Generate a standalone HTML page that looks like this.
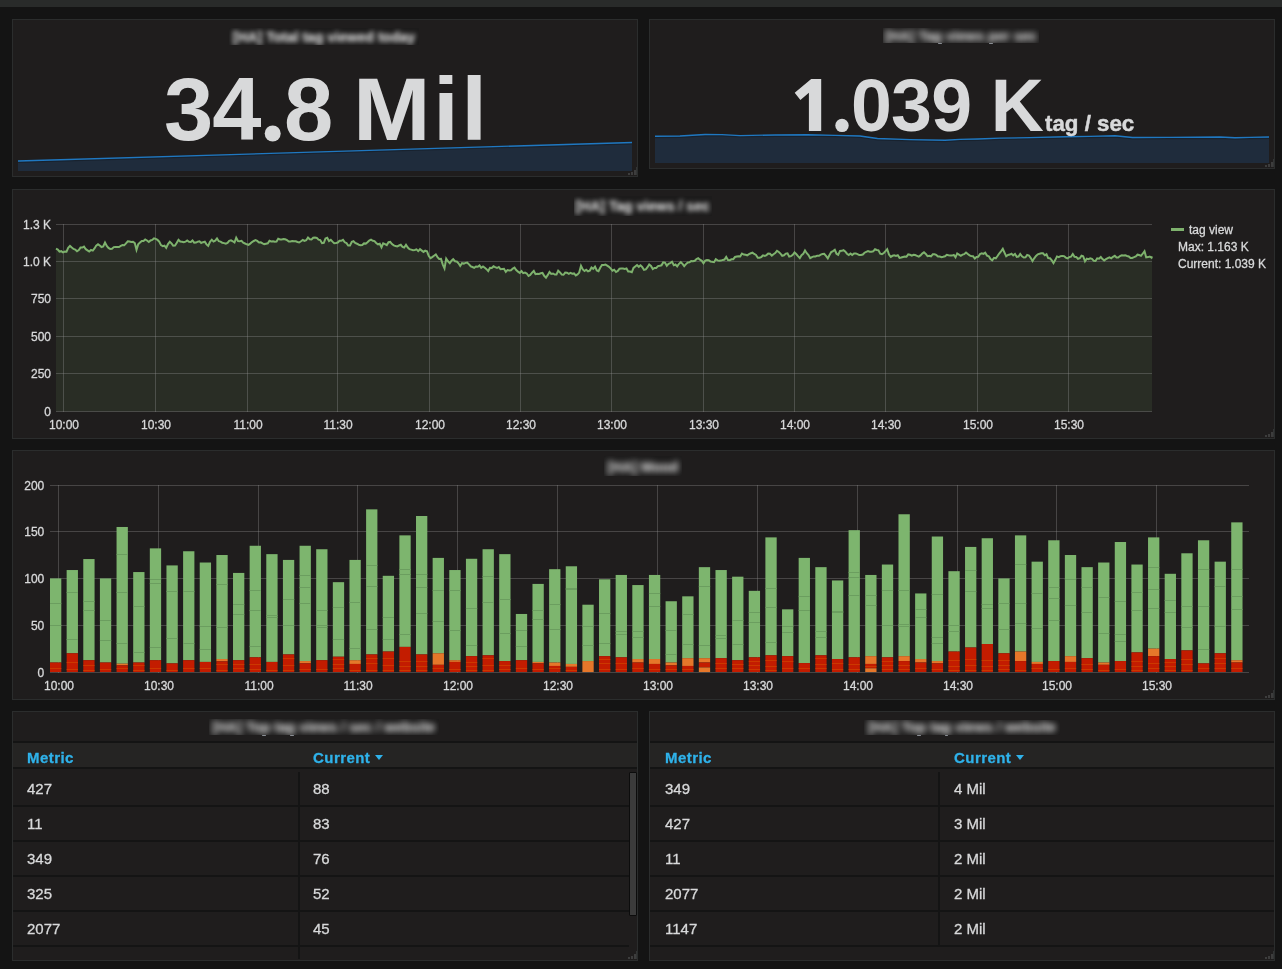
<!DOCTYPE html>
<html><head><meta charset="utf-8"><title>Grafana dashboard</title>
<style>
html,body{margin:0;padding:0;}
body{width:1282px;height:969px;overflow:hidden;background:#141414;position:relative;
 font-family:"Liberation Sans",sans-serif;color:#d8d9da;}
#top{position:absolute;left:0;top:0;width:1282px;height:7px;background:#292b2a}
.panel{position:absolute;background:#1f1d1d;border:1px solid #2b2d2d;}
svg#cv{position:absolute;left:0;top:0;}
.g{fill:rgba(146,146,146,0.35);shape-rendering:crispEdges}
.ttl{position:absolute;line-height:20px;display:flex;align-items:flex-start;justify-content:center;font-weight:bold;font-size:14px;
 color:#f2f2f2;white-space:nowrap;overflow:hidden;background:#1c1b1b}
.ttl span{display:block;flex:none;height:20px}
.big{position:absolute;text-align:center;font-weight:bold;color:#d8d9da;white-space:nowrap}
.yl,.xl,.lg,.td{-webkit-text-stroke:0.3px #d8d9da}
.yl,.xl,.lg,.td,.th,.big{will-change:transform}
.yl{position:absolute;text-align:right;font-size:12px;line-height:16px;height:16px;color:#d8d9da;white-space:nowrap}
.xl{position:absolute;width:60px;text-align:center;font-size:12px;line-height:16px;height:16px;color:#d8d9da}
.lg{position:absolute;font-size:12px;line-height:16px;color:#d8d9da;white-space:nowrap}
.th{position:absolute;font-size:15px;line-height:18px;font-weight:bold;color:#2fb2ea;white-space:nowrap;letter-spacing:0.45px;-webkit-text-stroke:0.3px #2fb2ea}
.td{position:absolute;font-size:15px;line-height:18px;color:#d8d9da;white-space:nowrap}
.caret{display:inline-block;width:0;height:0;border-left:4px solid transparent;border-right:4px solid transparent;
 border-top:5px solid #2fb2ea;margin-left:5px;vertical-align:3px}
</style></head>
<body>
<div id="top"></div>
<div class="panel" style="left:12px;top:19px;width:624px;height:156px"></div>
<div class="panel" style="left:649px;top:19px;width:624px;height:148px"></div>
<div class="panel" style="left:12px;top:189px;width:1261px;height:248px"></div>
<div class="panel" style="left:12px;top:450px;width:1261px;height:248px"></div>
<div class="panel" style="left:12px;top:711px;width:624px;height:248px"></div>
<div class="panel" style="left:649px;top:711px;width:624px;height:248px"></div>
<svg id="cv" width="1282" height="969" viewBox="0 0 1282 969">
<rect x="628" y="173" width="2" height="2" fill="#3d3d3d"/><rect x="631" y="172" width="2" height="3" fill="#3d3d3d"/><rect x="634" y="170" width="2" height="5" fill="#3d3d3d"/><rect x="636" y="167" width="1" height="8" fill="#333535"/>
<rect x="1265" y="165" width="2" height="2" fill="#3d3d3d"/><rect x="1268" y="164" width="2" height="3" fill="#3d3d3d"/><rect x="1271" y="162" width="2" height="5" fill="#3d3d3d"/><rect x="1273" y="159" width="1" height="8" fill="#333535"/>
<rect x="1265" y="435" width="2" height="2" fill="#3d3d3d"/><rect x="1268" y="434" width="2" height="3" fill="#3d3d3d"/><rect x="1271" y="432" width="2" height="5" fill="#3d3d3d"/><rect x="1273" y="429" width="1" height="8" fill="#333535"/>
<rect x="1265" y="696" width="2" height="2" fill="#3d3d3d"/><rect x="1268" y="695" width="2" height="3" fill="#3d3d3d"/><rect x="1271" y="693" width="2" height="5" fill="#3d3d3d"/><rect x="1273" y="690" width="1" height="8" fill="#333535"/>
<rect x="628" y="957" width="2" height="2" fill="#3d3d3d"/><rect x="631" y="956" width="2" height="3" fill="#3d3d3d"/><rect x="634" y="954" width="2" height="5" fill="#3d3d3d"/><rect x="636" y="951" width="1" height="8" fill="#333535"/>
<rect x="1265" y="957" width="2" height="2" fill="#3d3d3d"/><rect x="1268" y="956" width="2" height="3" fill="#3d3d3d"/><rect x="1271" y="954" width="2" height="5" fill="#3d3d3d"/><rect x="1273" y="951" width="1" height="8" fill="#333535"/>
<path d="M18,161 L632,142.5 L632,171 L18,171 Z" fill="#1f2c3c"/>
<path d="M18,162.3 L632,143.8" fill="none" stroke="rgba(0,0,0,0.22)" stroke-width="1.2"/>
<path d="M18,161 L632,142.5" fill="none" stroke="#1f78c1" stroke-width="1.3"/>
<path d="M655,136.25 L680,136.0 L705,134.5 L722,134.6 L740,135.7 L775,135.0 L807.5,134.75 L835,135.3 L860,136.0 L877.5,138.5 L910,139.6 L945,140.25 L960,139.3 L977.5,139.0 L1000,138.2 L1030,137.6 L1065,136.75 L1090,136.4 L1115,135.75 L1132.5,137.5 L1170,137.3 L1220,137.0 L1235,137.75 L1250,137.4 L1269,137.0 L1269,163 L655,163 Z" fill="#1f2c3c"/>
<path d="M655,136.25 L680,136.0 L705,134.5 L722,134.6 L740,135.7 L775,135.0 L807.5,134.75 L835,135.3 L860,136.0 L877.5,138.5 L910,139.6 L945,140.25 L960,139.3 L977.5,139.0 L1000,138.2 L1030,137.6 L1065,136.75 L1090,136.4 L1115,135.75 L1132.5,137.5 L1170,137.3 L1220,137.0 L1235,137.75 L1250,137.4 L1269,137.0" fill="none" stroke="rgba(0,0,0,0.22)" stroke-width="1.2" transform="translate(0,1.3)"/>
<path d="M655,136.25 L680,136.0 L705,134.5 L722,134.6 L740,135.7 L775,135.0 L807.5,134.75 L835,135.3 L860,136.0 L877.5,138.5 L910,139.6 L945,140.25 L960,139.3 L977.5,139.0 L1000,138.2 L1030,137.6 L1065,136.75 L1090,136.4 L1115,135.75 L1132.5,137.5 L1170,137.3 L1220,137.0 L1235,137.75 L1250,137.4 L1269,137.0" fill="none" stroke="#1f78c1" stroke-width="1.3"/>
<circle cx="272.7" cy="133.5" r="8" fill="#d8d9da"/>
<path d="M821.2,79 L821.2,131.1 L808.9,131.1 L808.9,92.8 L800.4,100.1 L794.7,92.7 L811.2,79 Z" fill="#d8d9da"/>
<circle cx="842" cy="125.4" r="6.7" fill="#d8d9da"/>
<path d="M56.0,248.7 L57.8,249.6 L59.5,251.7 L61.2,251.2 L63.0,252.4 L64.8,251.6 L66.5,251.7 L68.2,247.9 L70.0,245.9 L71.8,247.5 L73.5,248.9 L75.2,249.5 L77.0,251.3 L78.8,250.0 L80.5,247.6 L82.2,247.6 L84.0,246.6 L85.8,249.2 L87.5,250.3 L89.2,251.4 L91.0,249.9 L92.8,250.6 L94.5,248.4 L96.2,245.6 L98.0,244.3 L99.8,245.5 L101.5,247.0 L103.2,246.4 L105.0,242.6 L106.8,246.0 L108.5,247.9 L110.2,248.9 L112.0,248.8 L113.8,247.1 L115.5,246.9 L117.2,246.9 L119.0,247.0 L120.8,245.8 L122.5,245.1 L124.2,245.3 L126.0,243.3 L127.8,241.3 L129.5,241.5 L131.2,242.0 L133.0,241.8 L134.8,243.1 L136.5,249.8 L138.2,244.4 L140.0,242.6 L141.8,241.0 L143.5,241.0 L145.2,239.4 L147.0,240.5 L148.8,242.0 L150.5,240.5 L152.2,239.9 L154.0,238.4 L155.8,238.9 L157.5,239.9 L159.2,241.5 L161.0,245.1 L162.8,246.2 L164.5,245.6 L166.2,247.8 L168.0,244.1 L169.8,241.7 L171.5,243.4 L173.2,245.7 L175.0,245.5 L176.8,242.8 L178.5,239.8 L180.2,241.5 L182.0,241.7 L183.8,242.2 L185.5,241.7 L187.2,240.4 L189.0,241.7 L190.8,242.0 L192.5,240.4 L194.2,242.7 L196.0,242.6 L197.8,241.6 L199.5,241.3 L201.2,243.0 L203.0,242.2 L204.8,241.7 L206.5,244.4 L208.2,245.9 L210.0,241.8 L211.8,239.7 L213.5,241.6 L215.2,240.7 L217.0,238.5 L218.8,241.2 L220.5,241.6 L222.2,242.7 L224.0,243.1 L225.8,243.7 L227.5,242.9 L229.2,240.8 L231.0,240.3 L232.8,241.3 L234.5,242.5 L236.2,237.8 L238.0,241.1 L239.8,241.2 L241.5,240.8 L243.2,242.7 L245.0,243.5 L246.8,244.3 L248.5,244.8 L250.2,243.6 L252.0,242.1 L253.8,241.0 L255.5,240.2 L257.2,240.9 L259.0,242.5 L260.8,242.3 L262.5,243.4 L264.2,244.1 L266.0,243.7 L267.8,243.3 L269.5,240.8 L271.2,241.4 L273.0,241.2 L274.8,241.8 L276.5,241.6 L278.2,238.7 L280.0,239.5 L281.8,239.5 L283.5,239.1 L285.2,239.3 L287.0,240.2 L288.8,241.5 L290.5,241.4 L292.2,241.1 L294.0,241.2 L295.8,241.3 L297.5,242.0 L299.2,242.5 L301.0,241.3 L302.8,240.0 L304.5,240.9 L306.2,240.2 L308.0,237.5 L309.8,239.3 L311.5,239.5 L313.2,237.8 L315.0,237.5 L316.8,237.9 L318.5,239.6 L320.2,240.1 L322.0,243.1 L323.8,242.8 L325.5,238.4 L327.2,237.7 L329.0,241.0 L330.8,239.8 L332.5,241.6 L334.2,243.3 L336.0,243.0 L337.8,242.5 L339.5,240.7 L341.2,240.8 L343.0,239.8 L344.8,242.3 L346.5,243.1 L348.2,245.5 L350.0,245.5 L351.8,241.9 L353.5,241.2 L355.2,243.0 L357.0,243.7 L358.8,244.7 L360.5,245.2 L362.2,245.1 L364.0,243.4 L365.8,243.6 L367.5,242.3 L369.2,240.5 L371.0,239.7 L372.8,240.8 L374.5,241.1 L376.2,243.0 L378.0,244.3 L379.8,243.7 L381.5,247.3 L383.2,243.4 L385.0,244.1 L386.8,245.1 L388.5,242.2 L390.2,241.9 L392.0,244.1 L393.8,245.4 L395.5,246.1 L397.2,246.4 L399.0,245.5 L400.8,244.8 L402.5,246.8 L404.2,247.5 L406.0,244.8 L407.8,247.5 L409.5,249.2 L411.2,249.6 L413.0,250.2 L414.8,250.0 L416.5,249.4 L418.2,251.1 L420.0,249.2 L421.8,250.6 L423.5,251.9 L425.2,250.6 L427.0,251.3 L428.8,256.1 L430.5,258.2 L432.2,257.1 L434.0,255.7 L435.8,254.5 L437.5,257.1 L439.2,259.0 L441.0,258.9 L442.8,264.6 L444.5,268.4 L446.2,258.6 L448.0,261.3 L449.8,263.2 L451.5,260.7 L453.2,259.1 L455.0,261.2 L456.8,261.5 L458.5,263.3 L460.2,266.0 L462.0,263.2 L463.8,263.6 L465.5,262.9 L467.2,262.5 L469.0,264.4 L470.8,266.3 L472.5,267.0 L474.2,267.9 L476.0,266.5 L477.8,266.7 L479.5,265.4 L481.2,267.8 L483.0,266.5 L484.8,267.8 L486.5,269.2 L488.2,271.1 L490.0,267.9 L491.8,268.0 L493.5,266.3 L495.2,267.2 L497.0,268.0 L498.8,267.0 L500.5,269.2 L502.2,268.9 L504.0,268.7 L505.8,271.9 L507.5,270.1 L509.2,270.4 L511.0,270.2 L512.8,268.5 L514.5,267.6 L516.2,270.0 L518.0,271.6 L519.8,272.9 L521.5,271.1 L523.2,273.1 L525.0,272.6 L526.8,273.5 L528.5,276.0 L530.2,274.9 L532.0,272.7 L533.8,271.0 L535.5,274.2 L537.2,273.8 L539.0,274.0 L540.8,273.3 L542.5,272.9 L544.2,275.8 L546.0,277.7 L547.8,274.9 L549.5,271.9 L551.2,273.9 L553.0,273.5 L554.8,274.5 L556.5,274.5 L558.2,270.7 L560.0,272.4 L561.8,274.6 L563.5,274.8 L565.2,272.6 L567.0,272.7 L568.8,273.9 L570.5,272.9 L572.2,273.7 L574.0,273.4 L575.8,275.4 L577.5,274.4 L579.2,272.6 L581.0,265.8 L582.8,269.5 L584.5,271.0 L586.2,269.7 L588.0,271.3 L589.8,270.6 L591.5,267.5 L593.2,268.8 L595.0,266.6 L596.8,270.5 L598.5,271.2 L600.2,267.7 L602.0,265.0 L603.8,264.9 L605.5,264.6 L607.2,265.6 L609.0,266.8 L610.8,268.6 L612.5,270.7 L614.2,269.7 L616.0,272.0 L617.8,270.9 L619.5,268.7 L621.2,268.5 L623.0,268.5 L624.8,268.9 L626.5,268.4 L628.2,271.5 L630.0,271.6 L631.8,272.3 L633.5,267.9 L635.2,266.4 L637.0,265.0 L638.8,266.8 L640.5,265.3 L642.2,266.9 L644.0,269.9 L645.8,269.4 L647.5,267.2 L649.2,264.4 L651.0,265.9 L652.8,269.1 L654.5,267.9 L656.2,268.0 L658.0,266.1 L659.8,265.8 L661.5,265.3 L663.2,262.4 L665.0,262.6 L666.8,265.8 L668.5,263.8 L670.2,263.1 L672.0,261.8 L673.8,265.3 L675.5,264.5 L677.2,266.4 L679.0,263.8 L680.8,262.2 L682.5,263.9 L684.2,266.1 L686.0,264.1 L687.8,262.4 L689.5,262.3 L691.2,261.0 L693.0,261.3 L694.8,260.8 L696.5,259.0 L698.2,258.2 L700.0,259.7 L701.8,260.8 L703.5,263.2 L705.2,260.7 L707.0,260.1 L708.8,260.2 L710.5,261.6 L712.2,261.7 L714.0,262.2 L715.8,259.2 L717.5,260.4 L719.2,260.7 L721.0,260.6 L722.8,259.9 L724.5,259.6 L726.2,257.0 L728.0,260.1 L729.8,260.2 L731.5,259.3 L733.2,259.2 L735.0,257.0 L736.8,256.5 L738.5,256.3 L740.2,256.4 L742.0,253.5 L743.8,254.5 L745.5,254.8 L747.2,255.3 L749.0,254.1 L750.8,253.3 L752.5,252.7 L754.2,254.0 L756.0,254.9 L757.8,257.8 L759.5,257.7 L761.2,257.1 L763.0,255.4 L764.8,255.9 L766.5,255.1 L768.2,253.6 L770.0,253.8 L771.8,255.6 L773.5,254.2 L775.2,253.1 L777.0,250.8 L778.8,252.0 L780.5,253.6 L782.2,255.8 L784.0,255.3 L785.8,253.6 L787.5,253.3 L789.2,256.6 L791.0,256.1 L792.8,254.8 L794.5,252.5 L796.2,254.0 L798.0,256.2 L799.8,258.1 L801.5,255.2 L803.2,253.9 L805.0,250.5 L806.8,253.2 L808.5,255.0 L810.2,258.2 L812.0,257.1 L813.8,256.4 L815.5,256.5 L817.2,255.7 L819.0,255.8 L820.8,254.6 L822.5,254.1 L824.2,253.8 L826.0,255.9 L827.8,258.3 L829.5,255.0 L831.2,252.1 L833.0,251.1 L834.8,249.8 L836.5,253.7 L838.2,254.8 L840.0,250.9 L841.8,250.8 L843.5,250.1 L845.2,251.4 L847.0,253.7 L848.8,255.0 L850.5,253.6 L852.2,254.9 L854.0,253.4 L855.8,253.4 L857.5,254.2 L859.2,255.1 L861.0,255.0 L862.8,254.5 L864.5,252.7 L866.2,251.9 L868.0,251.1 L869.8,251.8 L871.5,251.8 L873.2,251.3 L875.0,249.3 L876.8,250.0 L878.5,250.4 L880.2,253.6 L882.0,254.2 L883.8,253.0 L885.5,251.1 L887.2,249.2 L889.0,254.5 L890.8,256.9 L892.5,255.8 L894.2,255.4 L896.0,256.0 L897.8,255.2 L899.5,257.9 L901.2,257.5 L903.0,257.0 L904.8,256.5 L906.5,256.7 L908.2,254.3 L910.0,254.8 L911.8,255.6 L913.5,254.8 L915.2,255.0 L917.0,255.8 L918.8,256.6 L920.5,255.4 L922.2,253.6 L924.0,252.3 L925.8,253.9 L927.5,256.1 L929.2,255.7 L931.0,256.3 L932.8,254.3 L934.5,254.3 L936.2,254.9 L938.0,256.5 L939.8,256.6 L941.5,257.2 L943.2,256.8 L945.0,256.3 L946.8,254.8 L948.5,255.3 L950.2,255.4 L952.0,255.6 L953.8,254.9 L955.5,257.3 L957.2,253.5 L959.0,254.6 L960.8,255.8 L962.5,254.6 L964.2,254.2 L966.0,252.5 L967.8,254.1 L969.5,255.4 L971.2,255.9 L973.0,256.2 L974.8,258.6 L976.5,257.0 L978.2,256.9 L980.0,254.1 L981.8,253.4 L983.5,253.9 L985.2,252.7 L987.0,255.6 L988.8,256.3 L990.5,259.1 L992.2,260.3 L994.0,257.8 L995.8,258.3 L997.5,256.0 L999.2,253.5 L1001.0,251.3 L1002.8,248.8 L1004.5,252.6 L1006.2,256.2 L1008.0,254.9 L1009.8,254.6 L1011.5,253.7 L1013.2,255.4 L1015.0,254.0 L1016.8,256.9 L1018.5,256.6 L1020.2,254.0 L1022.0,256.3 L1023.8,257.5 L1025.5,257.4 L1027.2,255.0 L1029.0,255.5 L1030.8,258.1 L1032.5,261.1 L1034.2,258.3 L1036.0,255.9 L1037.8,254.3 L1039.5,253.8 L1041.2,253.2 L1043.0,253.3 L1044.8,255.3 L1046.5,254.3 L1048.2,258.1 L1050.0,258.3 L1051.8,260.4 L1053.5,263.1 L1055.2,260.1 L1057.0,256.4 L1058.8,257.1 L1060.5,256.1 L1062.2,255.9 L1064.0,256.1 L1065.8,257.6 L1067.5,258.3 L1069.2,257.1 L1071.0,256.7 L1072.8,254.0 L1074.5,256.7 L1076.2,256.9 L1078.0,258.8 L1079.8,258.2 L1081.5,255.7 L1083.2,256.2 L1085.0,261.3 L1086.8,258.7 L1088.5,259.1 L1090.2,258.3 L1092.0,258.8 L1093.8,260.8 L1095.5,261.0 L1097.2,258.3 L1099.0,258.7 L1100.8,257.0 L1102.5,259.1 L1104.2,260.4 L1106.0,259.2 L1107.8,258.2 L1109.5,257.4 L1111.2,258.3 L1113.0,256.8 L1114.8,255.8 L1116.5,257.5 L1118.2,257.6 L1120.0,256.1 L1121.8,255.3 L1123.5,255.4 L1125.2,255.2 L1127.0,256.0 L1128.8,256.4 L1130.5,258.0 L1132.2,257.9 L1134.0,257.2 L1135.8,256.4 L1137.5,254.7 L1139.2,255.0 L1141.0,255.8 L1142.8,253.5 L1144.5,251.3 L1146.2,257.4 L1148.0,257.1 L1149.8,256.5 L1151.5,257.7 L1152.0,256.3 L1152,411.5 L56,411.5 Z" fill="rgba(126,178,109,0.112)"/>
<rect x="56" y="224" width="1096" height="1" class="g"/>
<rect x="56" y="261" width="1096" height="1" class="g"/>
<rect x="56" y="298" width="1096" height="1" class="g"/>
<rect x="56" y="336" width="1096" height="1" class="g"/>
<rect x="56" y="373" width="1096" height="1" class="g"/>
<rect x="56" y="411" width="1096" height="1" class="g"/>
<rect x="63" y="224" width="1" height="188" class="g"/>
<rect x="155" y="224" width="1" height="188" class="g"/>
<rect x="247" y="224" width="1" height="188" class="g"/>
<rect x="337" y="224" width="1" height="188" class="g"/>
<rect x="429" y="224" width="1" height="188" class="g"/>
<rect x="520" y="224" width="1" height="188" class="g"/>
<rect x="611" y="224" width="1" height="188" class="g"/>
<rect x="703" y="224" width="1" height="188" class="g"/>
<rect x="794" y="224" width="1" height="188" class="g"/>
<rect x="885" y="224" width="1" height="188" class="g"/>
<rect x="977" y="224" width="1" height="188" class="g"/>
<rect x="1068" y="224" width="1" height="188" class="g"/>
<path d="M56.0,248.7 L57.8,249.6 L59.5,251.7 L61.2,251.2 L63.0,252.4 L64.8,251.6 L66.5,251.7 L68.2,247.9 L70.0,245.9 L71.8,247.5 L73.5,248.9 L75.2,249.5 L77.0,251.3 L78.8,250.0 L80.5,247.6 L82.2,247.6 L84.0,246.6 L85.8,249.2 L87.5,250.3 L89.2,251.4 L91.0,249.9 L92.8,250.6 L94.5,248.4 L96.2,245.6 L98.0,244.3 L99.8,245.5 L101.5,247.0 L103.2,246.4 L105.0,242.6 L106.8,246.0 L108.5,247.9 L110.2,248.9 L112.0,248.8 L113.8,247.1 L115.5,246.9 L117.2,246.9 L119.0,247.0 L120.8,245.8 L122.5,245.1 L124.2,245.3 L126.0,243.3 L127.8,241.3 L129.5,241.5 L131.2,242.0 L133.0,241.8 L134.8,243.1 L136.5,249.8 L138.2,244.4 L140.0,242.6 L141.8,241.0 L143.5,241.0 L145.2,239.4 L147.0,240.5 L148.8,242.0 L150.5,240.5 L152.2,239.9 L154.0,238.4 L155.8,238.9 L157.5,239.9 L159.2,241.5 L161.0,245.1 L162.8,246.2 L164.5,245.6 L166.2,247.8 L168.0,244.1 L169.8,241.7 L171.5,243.4 L173.2,245.7 L175.0,245.5 L176.8,242.8 L178.5,239.8 L180.2,241.5 L182.0,241.7 L183.8,242.2 L185.5,241.7 L187.2,240.4 L189.0,241.7 L190.8,242.0 L192.5,240.4 L194.2,242.7 L196.0,242.6 L197.8,241.6 L199.5,241.3 L201.2,243.0 L203.0,242.2 L204.8,241.7 L206.5,244.4 L208.2,245.9 L210.0,241.8 L211.8,239.7 L213.5,241.6 L215.2,240.7 L217.0,238.5 L218.8,241.2 L220.5,241.6 L222.2,242.7 L224.0,243.1 L225.8,243.7 L227.5,242.9 L229.2,240.8 L231.0,240.3 L232.8,241.3 L234.5,242.5 L236.2,237.8 L238.0,241.1 L239.8,241.2 L241.5,240.8 L243.2,242.7 L245.0,243.5 L246.8,244.3 L248.5,244.8 L250.2,243.6 L252.0,242.1 L253.8,241.0 L255.5,240.2 L257.2,240.9 L259.0,242.5 L260.8,242.3 L262.5,243.4 L264.2,244.1 L266.0,243.7 L267.8,243.3 L269.5,240.8 L271.2,241.4 L273.0,241.2 L274.8,241.8 L276.5,241.6 L278.2,238.7 L280.0,239.5 L281.8,239.5 L283.5,239.1 L285.2,239.3 L287.0,240.2 L288.8,241.5 L290.5,241.4 L292.2,241.1 L294.0,241.2 L295.8,241.3 L297.5,242.0 L299.2,242.5 L301.0,241.3 L302.8,240.0 L304.5,240.9 L306.2,240.2 L308.0,237.5 L309.8,239.3 L311.5,239.5 L313.2,237.8 L315.0,237.5 L316.8,237.9 L318.5,239.6 L320.2,240.1 L322.0,243.1 L323.8,242.8 L325.5,238.4 L327.2,237.7 L329.0,241.0 L330.8,239.8 L332.5,241.6 L334.2,243.3 L336.0,243.0 L337.8,242.5 L339.5,240.7 L341.2,240.8 L343.0,239.8 L344.8,242.3 L346.5,243.1 L348.2,245.5 L350.0,245.5 L351.8,241.9 L353.5,241.2 L355.2,243.0 L357.0,243.7 L358.8,244.7 L360.5,245.2 L362.2,245.1 L364.0,243.4 L365.8,243.6 L367.5,242.3 L369.2,240.5 L371.0,239.7 L372.8,240.8 L374.5,241.1 L376.2,243.0 L378.0,244.3 L379.8,243.7 L381.5,247.3 L383.2,243.4 L385.0,244.1 L386.8,245.1 L388.5,242.2 L390.2,241.9 L392.0,244.1 L393.8,245.4 L395.5,246.1 L397.2,246.4 L399.0,245.5 L400.8,244.8 L402.5,246.8 L404.2,247.5 L406.0,244.8 L407.8,247.5 L409.5,249.2 L411.2,249.6 L413.0,250.2 L414.8,250.0 L416.5,249.4 L418.2,251.1 L420.0,249.2 L421.8,250.6 L423.5,251.9 L425.2,250.6 L427.0,251.3 L428.8,256.1 L430.5,258.2 L432.2,257.1 L434.0,255.7 L435.8,254.5 L437.5,257.1 L439.2,259.0 L441.0,258.9 L442.8,264.6 L444.5,268.4 L446.2,258.6 L448.0,261.3 L449.8,263.2 L451.5,260.7 L453.2,259.1 L455.0,261.2 L456.8,261.5 L458.5,263.3 L460.2,266.0 L462.0,263.2 L463.8,263.6 L465.5,262.9 L467.2,262.5 L469.0,264.4 L470.8,266.3 L472.5,267.0 L474.2,267.9 L476.0,266.5 L477.8,266.7 L479.5,265.4 L481.2,267.8 L483.0,266.5 L484.8,267.8 L486.5,269.2 L488.2,271.1 L490.0,267.9 L491.8,268.0 L493.5,266.3 L495.2,267.2 L497.0,268.0 L498.8,267.0 L500.5,269.2 L502.2,268.9 L504.0,268.7 L505.8,271.9 L507.5,270.1 L509.2,270.4 L511.0,270.2 L512.8,268.5 L514.5,267.6 L516.2,270.0 L518.0,271.6 L519.8,272.9 L521.5,271.1 L523.2,273.1 L525.0,272.6 L526.8,273.5 L528.5,276.0 L530.2,274.9 L532.0,272.7 L533.8,271.0 L535.5,274.2 L537.2,273.8 L539.0,274.0 L540.8,273.3 L542.5,272.9 L544.2,275.8 L546.0,277.7 L547.8,274.9 L549.5,271.9 L551.2,273.9 L553.0,273.5 L554.8,274.5 L556.5,274.5 L558.2,270.7 L560.0,272.4 L561.8,274.6 L563.5,274.8 L565.2,272.6 L567.0,272.7 L568.8,273.9 L570.5,272.9 L572.2,273.7 L574.0,273.4 L575.8,275.4 L577.5,274.4 L579.2,272.6 L581.0,265.8 L582.8,269.5 L584.5,271.0 L586.2,269.7 L588.0,271.3 L589.8,270.6 L591.5,267.5 L593.2,268.8 L595.0,266.6 L596.8,270.5 L598.5,271.2 L600.2,267.7 L602.0,265.0 L603.8,264.9 L605.5,264.6 L607.2,265.6 L609.0,266.8 L610.8,268.6 L612.5,270.7 L614.2,269.7 L616.0,272.0 L617.8,270.9 L619.5,268.7 L621.2,268.5 L623.0,268.5 L624.8,268.9 L626.5,268.4 L628.2,271.5 L630.0,271.6 L631.8,272.3 L633.5,267.9 L635.2,266.4 L637.0,265.0 L638.8,266.8 L640.5,265.3 L642.2,266.9 L644.0,269.9 L645.8,269.4 L647.5,267.2 L649.2,264.4 L651.0,265.9 L652.8,269.1 L654.5,267.9 L656.2,268.0 L658.0,266.1 L659.8,265.8 L661.5,265.3 L663.2,262.4 L665.0,262.6 L666.8,265.8 L668.5,263.8 L670.2,263.1 L672.0,261.8 L673.8,265.3 L675.5,264.5 L677.2,266.4 L679.0,263.8 L680.8,262.2 L682.5,263.9 L684.2,266.1 L686.0,264.1 L687.8,262.4 L689.5,262.3 L691.2,261.0 L693.0,261.3 L694.8,260.8 L696.5,259.0 L698.2,258.2 L700.0,259.7 L701.8,260.8 L703.5,263.2 L705.2,260.7 L707.0,260.1 L708.8,260.2 L710.5,261.6 L712.2,261.7 L714.0,262.2 L715.8,259.2 L717.5,260.4 L719.2,260.7 L721.0,260.6 L722.8,259.9 L724.5,259.6 L726.2,257.0 L728.0,260.1 L729.8,260.2 L731.5,259.3 L733.2,259.2 L735.0,257.0 L736.8,256.5 L738.5,256.3 L740.2,256.4 L742.0,253.5 L743.8,254.5 L745.5,254.8 L747.2,255.3 L749.0,254.1 L750.8,253.3 L752.5,252.7 L754.2,254.0 L756.0,254.9 L757.8,257.8 L759.5,257.7 L761.2,257.1 L763.0,255.4 L764.8,255.9 L766.5,255.1 L768.2,253.6 L770.0,253.8 L771.8,255.6 L773.5,254.2 L775.2,253.1 L777.0,250.8 L778.8,252.0 L780.5,253.6 L782.2,255.8 L784.0,255.3 L785.8,253.6 L787.5,253.3 L789.2,256.6 L791.0,256.1 L792.8,254.8 L794.5,252.5 L796.2,254.0 L798.0,256.2 L799.8,258.1 L801.5,255.2 L803.2,253.9 L805.0,250.5 L806.8,253.2 L808.5,255.0 L810.2,258.2 L812.0,257.1 L813.8,256.4 L815.5,256.5 L817.2,255.7 L819.0,255.8 L820.8,254.6 L822.5,254.1 L824.2,253.8 L826.0,255.9 L827.8,258.3 L829.5,255.0 L831.2,252.1 L833.0,251.1 L834.8,249.8 L836.5,253.7 L838.2,254.8 L840.0,250.9 L841.8,250.8 L843.5,250.1 L845.2,251.4 L847.0,253.7 L848.8,255.0 L850.5,253.6 L852.2,254.9 L854.0,253.4 L855.8,253.4 L857.5,254.2 L859.2,255.1 L861.0,255.0 L862.8,254.5 L864.5,252.7 L866.2,251.9 L868.0,251.1 L869.8,251.8 L871.5,251.8 L873.2,251.3 L875.0,249.3 L876.8,250.0 L878.5,250.4 L880.2,253.6 L882.0,254.2 L883.8,253.0 L885.5,251.1 L887.2,249.2 L889.0,254.5 L890.8,256.9 L892.5,255.8 L894.2,255.4 L896.0,256.0 L897.8,255.2 L899.5,257.9 L901.2,257.5 L903.0,257.0 L904.8,256.5 L906.5,256.7 L908.2,254.3 L910.0,254.8 L911.8,255.6 L913.5,254.8 L915.2,255.0 L917.0,255.8 L918.8,256.6 L920.5,255.4 L922.2,253.6 L924.0,252.3 L925.8,253.9 L927.5,256.1 L929.2,255.7 L931.0,256.3 L932.8,254.3 L934.5,254.3 L936.2,254.9 L938.0,256.5 L939.8,256.6 L941.5,257.2 L943.2,256.8 L945.0,256.3 L946.8,254.8 L948.5,255.3 L950.2,255.4 L952.0,255.6 L953.8,254.9 L955.5,257.3 L957.2,253.5 L959.0,254.6 L960.8,255.8 L962.5,254.6 L964.2,254.2 L966.0,252.5 L967.8,254.1 L969.5,255.4 L971.2,255.9 L973.0,256.2 L974.8,258.6 L976.5,257.0 L978.2,256.9 L980.0,254.1 L981.8,253.4 L983.5,253.9 L985.2,252.7 L987.0,255.6 L988.8,256.3 L990.5,259.1 L992.2,260.3 L994.0,257.8 L995.8,258.3 L997.5,256.0 L999.2,253.5 L1001.0,251.3 L1002.8,248.8 L1004.5,252.6 L1006.2,256.2 L1008.0,254.9 L1009.8,254.6 L1011.5,253.7 L1013.2,255.4 L1015.0,254.0 L1016.8,256.9 L1018.5,256.6 L1020.2,254.0 L1022.0,256.3 L1023.8,257.5 L1025.5,257.4 L1027.2,255.0 L1029.0,255.5 L1030.8,258.1 L1032.5,261.1 L1034.2,258.3 L1036.0,255.9 L1037.8,254.3 L1039.5,253.8 L1041.2,253.2 L1043.0,253.3 L1044.8,255.3 L1046.5,254.3 L1048.2,258.1 L1050.0,258.3 L1051.8,260.4 L1053.5,263.1 L1055.2,260.1 L1057.0,256.4 L1058.8,257.1 L1060.5,256.1 L1062.2,255.9 L1064.0,256.1 L1065.8,257.6 L1067.5,258.3 L1069.2,257.1 L1071.0,256.7 L1072.8,254.0 L1074.5,256.7 L1076.2,256.9 L1078.0,258.8 L1079.8,258.2 L1081.5,255.7 L1083.2,256.2 L1085.0,261.3 L1086.8,258.7 L1088.5,259.1 L1090.2,258.3 L1092.0,258.8 L1093.8,260.8 L1095.5,261.0 L1097.2,258.3 L1099.0,258.7 L1100.8,257.0 L1102.5,259.1 L1104.2,260.4 L1106.0,259.2 L1107.8,258.2 L1109.5,257.4 L1111.2,258.3 L1113.0,256.8 L1114.8,255.8 L1116.5,257.5 L1118.2,257.6 L1120.0,256.1 L1121.8,255.3 L1123.5,255.4 L1125.2,255.2 L1127.0,256.0 L1128.8,256.4 L1130.5,258.0 L1132.2,257.9 L1134.0,257.2 L1135.8,256.4 L1137.5,254.7 L1139.2,255.0 L1141.0,255.8 L1142.8,253.5 L1144.5,251.3 L1146.2,257.4 L1148.0,257.1 L1149.8,256.5 L1151.5,257.7 L1152.0,256.3" fill="none" stroke="#7eb26d" stroke-width="2" stroke-linejoin="miter"/>
<rect x="1171" y="228" width="13" height="3" fill="#7eb26d"/>
<rect x="50" y="485" width="1199" height="1" class="g"/>
<rect x="50" y="531" width="1199" height="1" class="g"/>
<rect x="50" y="578" width="1199" height="1" class="g"/>
<rect x="50" y="625" width="1199" height="1" class="g"/>
<rect x="58" y="485" width="1" height="188" class="g"/>
<rect x="158" y="485" width="1" height="188" class="g"/>
<rect x="258" y="485" width="1" height="188" class="g"/>
<rect x="357" y="485" width="1" height="188" class="g"/>
<rect x="457" y="485" width="1" height="188" class="g"/>
<rect x="557" y="485" width="1" height="188" class="g"/>
<rect x="657" y="485" width="1" height="188" class="g"/>
<rect x="757" y="485" width="1" height="188" class="g"/>
<rect x="857" y="485" width="1" height="188" class="g"/>
<rect x="957" y="485" width="1" height="188" class="g"/>
<rect x="1056" y="485" width="1" height="188" class="g"/>
<rect x="1156" y="485" width="1" height="188" class="g"/>
<rect x="50.00" y="578.42" width="11.3" height="84.09" fill="#7db56e"/>
<line x1="50.00" x2="61.30" y1="603.5" y2="603.5" stroke="#6b9e5f" stroke-width="1"/>
<line x1="50.00" x2="61.30" y1="625.5" y2="625.5" stroke="#6b9e5f" stroke-width="1"/>
<rect x="50.00" y="662.50" width="11.3" height="9.54" fill="#c31c00"/>
<line x1="50.00" x2="61.30" y1="668.5" y2="668.5" stroke="#cf4000" stroke-width="1" opacity="0.8"/>
<rect x="66.64" y="570.04" width="11.3" height="83.22" fill="#7db56e"/>
<line x1="66.64" x2="77.94" y1="592.5" y2="592.5" stroke="#6b9e5f" stroke-width="1"/>
<line x1="66.64" x2="77.94" y1="639.5" y2="639.5" stroke="#6b9e5f" stroke-width="1"/>
<rect x="66.64" y="653.26" width="11.3" height="18.78" fill="#c31c00"/>
<line x1="66.64" x2="77.94" y1="669.5" y2="669.5" stroke="#cf4000" stroke-width="1" opacity="0.8"/>
<line x1="66.64" x2="77.94" y1="662.5" y2="662.5" stroke="#cf4000" stroke-width="1" opacity="0.8"/>
<rect x="83.27" y="559.05" width="11.3" height="101.14" fill="#7db56e"/>
<line x1="83.27" x2="94.57" y1="601.5" y2="601.5" stroke="#6b9e5f" stroke-width="1"/>
<line x1="83.27" x2="94.57" y1="610.5" y2="610.5" stroke="#6b9e5f" stroke-width="1"/>
<rect x="83.27" y="660.19" width="11.3" height="11.85" fill="#c31c00"/>
<line x1="83.27" x2="94.57" y1="670.5" y2="670.5" stroke="#cf4000" stroke-width="1" opacity="0.8"/>
<line x1="83.27" x2="94.57" y1="665.5" y2="665.5" stroke="#cf4000" stroke-width="1" opacity="0.8"/>
<rect x="99.91" y="578.42" width="11.3" height="84.09" fill="#7db56e"/>
<line x1="99.91" x2="111.21" y1="620.5" y2="620.5" stroke="#6b9e5f" stroke-width="1"/>
<line x1="99.91" x2="111.21" y1="640.5" y2="640.5" stroke="#6b9e5f" stroke-width="1"/>
<rect x="99.91" y="662.50" width="11.3" height="9.54" fill="#c31c00"/>
<line x1="99.91" x2="111.21" y1="669.5" y2="669.5" stroke="#cf4000" stroke-width="1" opacity="0.8"/>
<rect x="116.55" y="526.98" width="11.3" height="136.68" fill="#7db56e"/>
<line x1="116.55" x2="127.85" y1="554.5" y2="554.5" stroke="#6b9e5f" stroke-width="1"/>
<line x1="116.55" x2="127.85" y1="592.5" y2="592.5" stroke="#6b9e5f" stroke-width="1"/>
<line x1="116.55" x2="127.85" y1="643.5" y2="643.5" stroke="#6b9e5f" stroke-width="1"/>
<rect x="116.55" y="663.66" width="11.3" height="1.73" fill="#e6772a"/>
<rect x="116.55" y="665.39" width="11.3" height="6.65" fill="#c31c00"/>
<line x1="116.55" x2="127.85" y1="668.5" y2="668.5" stroke="#cf4000" stroke-width="1" opacity="0.8"/>
<rect x="133.19" y="572.06" width="11.3" height="90.45" fill="#7db56e"/>
<line x1="133.19" x2="144.49" y1="606.5" y2="606.5" stroke="#6b9e5f" stroke-width="1"/>
<line x1="133.19" x2="144.49" y1="652.5" y2="652.5" stroke="#6b9e5f" stroke-width="1"/>
<rect x="133.19" y="662.50" width="11.3" height="9.54" fill="#c31c00"/>
<line x1="133.19" x2="144.49" y1="670.5" y2="670.5" stroke="#cf4000" stroke-width="1" opacity="0.8"/>
<line x1="133.19" x2="144.49" y1="665.5" y2="665.5" stroke="#cf4000" stroke-width="1" opacity="0.8"/>
<rect x="149.82" y="548.36" width="11.3" height="111.83" fill="#7db56e"/>
<line x1="149.82" x2="161.12" y1="579.5" y2="579.5" stroke="#6b9e5f" stroke-width="1"/>
<line x1="149.82" x2="161.12" y1="583.5" y2="583.5" stroke="#6b9e5f" stroke-width="1"/>
<line x1="149.82" x2="161.12" y1="647.5" y2="647.5" stroke="#6b9e5f" stroke-width="1"/>
<rect x="149.82" y="660.19" width="11.3" height="11.85" fill="#c31c00"/>
<line x1="149.82" x2="161.12" y1="668.5" y2="668.5" stroke="#cf4000" stroke-width="1" opacity="0.8"/>
<rect x="166.46" y="565.41" width="11.3" height="97.96" fill="#7db56e"/>
<line x1="166.46" x2="177.76" y1="591.5" y2="591.5" stroke="#6b9e5f" stroke-width="1"/>
<line x1="166.46" x2="177.76" y1="638.5" y2="638.5" stroke="#6b9e5f" stroke-width="1"/>
<rect x="166.46" y="663.37" width="11.3" height="8.67" fill="#c31c00"/>
<line x1="166.46" x2="177.76" y1="670.5" y2="670.5" stroke="#cf4000" stroke-width="1" opacity="0.8"/>
<rect x="183.10" y="551.25" width="11.3" height="108.94" fill="#7db56e"/>
<line x1="183.10" x2="194.40" y1="591.5" y2="591.5" stroke="#6b9e5f" stroke-width="1"/>
<line x1="183.10" x2="194.40" y1="643.5" y2="643.5" stroke="#6b9e5f" stroke-width="1"/>
<rect x="183.10" y="660.19" width="11.3" height="11.85" fill="#c31c00"/>
<line x1="183.10" x2="194.40" y1="668.5" y2="668.5" stroke="#cf4000" stroke-width="1" opacity="0.8"/>
<rect x="199.73" y="562.52" width="11.3" height="99.40" fill="#7db56e"/>
<line x1="199.73" x2="211.03" y1="626.5" y2="626.5" stroke="#6b9e5f" stroke-width="1"/>
<line x1="199.73" x2="211.03" y1="649.5" y2="649.5" stroke="#6b9e5f" stroke-width="1"/>
<rect x="199.73" y="661.93" width="11.3" height="10.11" fill="#c31c00"/>
<line x1="199.73" x2="211.03" y1="668.5" y2="668.5" stroke="#cf4000" stroke-width="1" opacity="0.8"/>
<rect x="216.37" y="555.01" width="11.3" height="104.03" fill="#7db56e"/>
<line x1="216.37" x2="227.67" y1="584.5" y2="584.5" stroke="#6b9e5f" stroke-width="1"/>
<line x1="216.37" x2="227.67" y1="627.5" y2="627.5" stroke="#6b9e5f" stroke-width="1"/>
<rect x="216.37" y="659.04" width="11.3" height="2.31" fill="#e6772a"/>
<rect x="216.37" y="661.35" width="11.3" height="10.69" fill="#c31c00"/>
<line x1="216.37" x2="227.67" y1="670.5" y2="670.5" stroke="#cf4000" stroke-width="1" opacity="0.8"/>
<line x1="216.37" x2="227.67" y1="664.5" y2="664.5" stroke="#cf4000" stroke-width="1" opacity="0.8"/>
<rect x="233.01" y="572.92" width="11.3" height="87.27" fill="#7db56e"/>
<line x1="233.01" x2="244.31" y1="604.5" y2="604.5" stroke="#6b9e5f" stroke-width="1"/>
<line x1="233.01" x2="244.31" y1="614.5" y2="614.5" stroke="#6b9e5f" stroke-width="1"/>
<rect x="233.01" y="660.19" width="11.3" height="11.85" fill="#c31c00"/>
<line x1="233.01" x2="244.31" y1="668.5" y2="668.5" stroke="#cf4000" stroke-width="1" opacity="0.8"/>
<line x1="233.01" x2="244.31" y1="664.5" y2="664.5" stroke="#cf4000" stroke-width="1" opacity="0.8"/>
<rect x="249.64" y="545.76" width="11.3" height="111.54" fill="#7db56e"/>
<line x1="249.64" x2="260.94" y1="590.5" y2="590.5" stroke="#6b9e5f" stroke-width="1"/>
<line x1="249.64" x2="260.94" y1="610.5" y2="610.5" stroke="#6b9e5f" stroke-width="1"/>
<line x1="249.64" x2="260.94" y1="646.5" y2="646.5" stroke="#6b9e5f" stroke-width="1"/>
<rect x="249.64" y="657.30" width="11.3" height="14.74" fill="#c31c00"/>
<line x1="249.64" x2="260.94" y1="669.5" y2="669.5" stroke="#cf4000" stroke-width="1" opacity="0.8"/>
<line x1="249.64" x2="260.94" y1="664.5" y2="664.5" stroke="#cf4000" stroke-width="1" opacity="0.8"/>
<rect x="266.28" y="554.14" width="11.3" height="107.78" fill="#7db56e"/>
<line x1="266.28" x2="277.58" y1="615.5" y2="615.5" stroke="#6b9e5f" stroke-width="1"/>
<line x1="266.28" x2="277.58" y1="617.5" y2="617.5" stroke="#6b9e5f" stroke-width="1"/>
<rect x="266.28" y="661.93" width="11.3" height="10.11" fill="#c31c00"/>
<line x1="266.28" x2="277.58" y1="670.5" y2="670.5" stroke="#cf4000" stroke-width="1" opacity="0.8"/>
<rect x="282.92" y="559.92" width="11.3" height="94.49" fill="#7db56e"/>
<line x1="282.92" x2="294.22" y1="599.5" y2="599.5" stroke="#6b9e5f" stroke-width="1"/>
<line x1="282.92" x2="294.22" y1="625.5" y2="625.5" stroke="#6b9e5f" stroke-width="1"/>
<rect x="282.92" y="654.41" width="11.3" height="17.63" fill="#c31c00"/>
<line x1="282.92" x2="294.22" y1="670.5" y2="670.5" stroke="#cf4000" stroke-width="1" opacity="0.8"/>
<line x1="282.92" x2="294.22" y1="665.5" y2="665.5" stroke="#cf4000" stroke-width="1" opacity="0.8"/>
<line x1="282.92" x2="294.22" y1="658.5" y2="658.5" stroke="#cf4000" stroke-width="1" opacity="0.8"/>
<rect x="299.56" y="545.76" width="11.3" height="115.30" fill="#7db56e"/>
<line x1="299.56" x2="310.86" y1="575.5" y2="575.5" stroke="#6b9e5f" stroke-width="1"/>
<line x1="299.56" x2="310.86" y1="587.5" y2="587.5" stroke="#6b9e5f" stroke-width="1"/>
<line x1="299.56" x2="310.86" y1="603.5" y2="603.5" stroke="#6b9e5f" stroke-width="1"/>
<rect x="299.56" y="661.06" width="11.3" height="2.31" fill="#e6772a"/>
<rect x="299.56" y="663.37" width="11.3" height="8.67" fill="#c31c00"/>
<line x1="299.56" x2="310.86" y1="669.5" y2="669.5" stroke="#cf4000" stroke-width="1" opacity="0.8"/>
<rect x="316.19" y="549.23" width="11.3" height="110.96" fill="#7db56e"/>
<line x1="316.19" x2="327.49" y1="610.5" y2="610.5" stroke="#6b9e5f" stroke-width="1"/>
<line x1="316.19" x2="327.49" y1="625.5" y2="625.5" stroke="#6b9e5f" stroke-width="1"/>
<line x1="316.19" x2="327.49" y1="627.5" y2="627.5" stroke="#6b9e5f" stroke-width="1"/>
<rect x="316.19" y="660.19" width="11.3" height="11.85" fill="#c31c00"/>
<line x1="316.19" x2="327.49" y1="669.5" y2="669.5" stroke="#cf4000" stroke-width="1" opacity="0.8"/>
<rect x="332.83" y="582.17" width="11.3" height="74.55" fill="#7db56e"/>
<line x1="332.83" x2="344.13" y1="607.5" y2="607.5" stroke="#6b9e5f" stroke-width="1"/>
<line x1="332.83" x2="344.13" y1="639.5" y2="639.5" stroke="#6b9e5f" stroke-width="1"/>
<rect x="332.83" y="656.73" width="11.3" height="15.32" fill="#c31c00"/>
<line x1="332.83" x2="344.13" y1="668.5" y2="668.5" stroke="#cf4000" stroke-width="1" opacity="0.8"/>
<line x1="332.83" x2="344.13" y1="664.5" y2="664.5" stroke="#cf4000" stroke-width="1" opacity="0.8"/>
<line x1="332.83" x2="344.13" y1="659.5" y2="659.5" stroke="#cf4000" stroke-width="1" opacity="0.8"/>
<rect x="349.47" y="559.92" width="11.3" height="100.27" fill="#7db56e"/>
<line x1="349.47" x2="360.77" y1="602.5" y2="602.5" stroke="#6b9e5f" stroke-width="1"/>
<line x1="349.47" x2="360.77" y1="648.5" y2="648.5" stroke="#6b9e5f" stroke-width="1"/>
<rect x="349.47" y="660.19" width="11.3" height="3.76" fill="#e6772a"/>
<rect x="349.47" y="663.95" width="11.3" height="8.09" fill="#c31c00"/>
<line x1="349.47" x2="360.77" y1="670.5" y2="670.5" stroke="#cf4000" stroke-width="1" opacity="0.8"/>
<rect x="366.10" y="509.35" width="11.3" height="145.06" fill="#7db56e"/>
<line x1="366.10" x2="377.40" y1="565.5" y2="565.5" stroke="#6b9e5f" stroke-width="1"/>
<line x1="366.10" x2="377.40" y1="586.5" y2="586.5" stroke="#6b9e5f" stroke-width="1"/>
<line x1="366.10" x2="377.40" y1="629.5" y2="629.5" stroke="#6b9e5f" stroke-width="1"/>
<rect x="366.10" y="654.41" width="11.3" height="17.63" fill="#c31c00"/>
<line x1="366.10" x2="377.40" y1="670.5" y2="670.5" stroke="#cf4000" stroke-width="1" opacity="0.8"/>
<line x1="366.10" x2="377.40" y1="663.5" y2="663.5" stroke="#cf4000" stroke-width="1" opacity="0.8"/>
<line x1="366.10" x2="377.40" y1="658.5" y2="658.5" stroke="#cf4000" stroke-width="1" opacity="0.8"/>
<rect x="382.74" y="575.81" width="11.3" height="75.71" fill="#7db56e"/>
<line x1="382.74" x2="394.04" y1="617.5" y2="617.5" stroke="#6b9e5f" stroke-width="1"/>
<line x1="382.74" x2="394.04" y1="639.5" y2="639.5" stroke="#6b9e5f" stroke-width="1"/>
<rect x="382.74" y="651.52" width="11.3" height="20.52" fill="#c31c00"/>
<line x1="382.74" x2="394.04" y1="670.5" y2="670.5" stroke="#cf4000" stroke-width="1" opacity="0.8"/>
<line x1="382.74" x2="394.04" y1="665.5" y2="665.5" stroke="#cf4000" stroke-width="1" opacity="0.8"/>
<line x1="382.74" x2="394.04" y1="658.5" y2="658.5" stroke="#cf4000" stroke-width="1" opacity="0.8"/>
<rect x="399.38" y="535.36" width="11.3" height="111.54" fill="#7db56e"/>
<line x1="399.38" x2="410.68" y1="569.5" y2="569.5" stroke="#6b9e5f" stroke-width="1"/>
<line x1="399.38" x2="410.68" y1="574.5" y2="574.5" stroke="#6b9e5f" stroke-width="1"/>
<line x1="399.38" x2="410.68" y1="634.5" y2="634.5" stroke="#6b9e5f" stroke-width="1"/>
<rect x="399.38" y="646.90" width="11.3" height="25.14" fill="#c31c00"/>
<line x1="399.38" x2="410.68" y1="670.5" y2="670.5" stroke="#cf4000" stroke-width="1" opacity="0.8"/>
<line x1="399.38" x2="410.68" y1="666.5" y2="666.5" stroke="#cf4000" stroke-width="1" opacity="0.8"/>
<line x1="399.38" x2="410.68" y1="661.5" y2="661.5" stroke="#cf4000" stroke-width="1" opacity="0.8"/>
<rect x="416.01" y="516.00" width="11.3" height="138.42" fill="#7db56e"/>
<line x1="416.01" x2="427.31" y1="574.5" y2="574.5" stroke="#6b9e5f" stroke-width="1"/>
<line x1="416.01" x2="427.31" y1="587.5" y2="587.5" stroke="#6b9e5f" stroke-width="1"/>
<line x1="416.01" x2="427.31" y1="613.5" y2="613.5" stroke="#6b9e5f" stroke-width="1"/>
<rect x="416.01" y="654.41" width="11.3" height="17.63" fill="#c31c00"/>
<line x1="416.01" x2="427.31" y1="670.5" y2="670.5" stroke="#cf4000" stroke-width="1" opacity="0.8"/>
<line x1="416.01" x2="427.31" y1="666.5" y2="666.5" stroke="#cf4000" stroke-width="1" opacity="0.8"/>
<line x1="416.01" x2="427.31" y1="661.5" y2="661.5" stroke="#cf4000" stroke-width="1" opacity="0.8"/>
<rect x="432.65" y="557.90" width="11.3" height="95.36" fill="#7db56e"/>
<line x1="432.65" x2="443.95" y1="590.5" y2="590.5" stroke="#6b9e5f" stroke-width="1"/>
<line x1="432.65" x2="443.95" y1="621.5" y2="621.5" stroke="#6b9e5f" stroke-width="1"/>
<rect x="432.65" y="653.26" width="11.3" height="11.56" fill="#e6772a"/>
<rect x="432.65" y="664.82" width="11.3" height="7.22" fill="#c31c00"/>
<line x1="432.65" x2="443.95" y1="668.5" y2="668.5" stroke="#cf4000" stroke-width="1" opacity="0.8"/>
<rect x="449.29" y="570.04" width="11.3" height="90.16" fill="#7db56e"/>
<line x1="449.29" x2="460.59" y1="590.5" y2="590.5" stroke="#6b9e5f" stroke-width="1"/>
<line x1="449.29" x2="460.59" y1="630.5" y2="630.5" stroke="#6b9e5f" stroke-width="1"/>
<rect x="449.29" y="660.19" width="11.3" height="1.73" fill="#e6772a"/>
<rect x="449.29" y="661.93" width="11.3" height="10.11" fill="#c31c00"/>
<line x1="449.29" x2="460.59" y1="669.5" y2="669.5" stroke="#cf4000" stroke-width="1" opacity="0.8"/>
<rect x="465.93" y="558.77" width="11.3" height="97.38" fill="#7db56e"/>
<line x1="465.93" x2="477.23" y1="608.5" y2="608.5" stroke="#6b9e5f" stroke-width="1"/>
<line x1="465.93" x2="477.23" y1="645.5" y2="645.5" stroke="#6b9e5f" stroke-width="1"/>
<rect x="465.93" y="656.15" width="11.3" height="15.89" fill="#c31c00"/>
<line x1="465.93" x2="477.23" y1="670.5" y2="670.5" stroke="#cf4000" stroke-width="1" opacity="0.8"/>
<line x1="465.93" x2="477.23" y1="666.5" y2="666.5" stroke="#cf4000" stroke-width="1" opacity="0.8"/>
<line x1="465.93" x2="477.23" y1="662.5" y2="662.5" stroke="#cf4000" stroke-width="1" opacity="0.8"/>
<rect x="482.56" y="549.23" width="11.3" height="106.05" fill="#7db56e"/>
<line x1="482.56" x2="493.86" y1="576.5" y2="576.5" stroke="#6b9e5f" stroke-width="1"/>
<line x1="482.56" x2="493.86" y1="602.5" y2="602.5" stroke="#6b9e5f" stroke-width="1"/>
<rect x="482.56" y="655.28" width="11.3" height="16.76" fill="#c31c00"/>
<line x1="482.56" x2="493.86" y1="670.5" y2="670.5" stroke="#cf4000" stroke-width="1" opacity="0.8"/>
<line x1="482.56" x2="493.86" y1="665.5" y2="665.5" stroke="#cf4000" stroke-width="1" opacity="0.8"/>
<line x1="482.56" x2="493.86" y1="658.5" y2="658.5" stroke="#cf4000" stroke-width="1" opacity="0.8"/>
<rect x="499.20" y="554.14" width="11.3" height="106.92" fill="#7db56e"/>
<line x1="499.20" x2="510.50" y1="599.5" y2="599.5" stroke="#6b9e5f" stroke-width="1"/>
<line x1="499.20" x2="510.50" y1="633.5" y2="633.5" stroke="#6b9e5f" stroke-width="1"/>
<rect x="499.20" y="661.06" width="11.3" height="10.98" fill="#c31c00"/>
<line x1="499.20" x2="510.50" y1="669.5" y2="669.5" stroke="#cf4000" stroke-width="1" opacity="0.8"/>
<line x1="499.20" x2="510.50" y1="665.5" y2="665.5" stroke="#cf4000" stroke-width="1" opacity="0.8"/>
<rect x="515.84" y="613.96" width="11.3" height="46.23" fill="#7db56e"/>
<line x1="515.84" x2="527.14" y1="630.5" y2="630.5" stroke="#6b9e5f" stroke-width="1"/>
<line x1="515.84" x2="527.14" y1="646.5" y2="646.5" stroke="#6b9e5f" stroke-width="1"/>
<rect x="515.84" y="660.19" width="11.3" height="11.85" fill="#c31c00"/>
<line x1="515.84" x2="527.14" y1="668.5" y2="668.5" stroke="#cf4000" stroke-width="1" opacity="0.8"/>
<rect x="532.47" y="583.91" width="11.3" height="78.02" fill="#7db56e"/>
<line x1="532.47" x2="543.77" y1="610.5" y2="610.5" stroke="#6b9e5f" stroke-width="1"/>
<line x1="532.47" x2="543.77" y1="619.5" y2="619.5" stroke="#6b9e5f" stroke-width="1"/>
<rect x="532.47" y="661.93" width="11.3" height="1.44" fill="#e6772a"/>
<rect x="532.47" y="663.37" width="11.3" height="8.67" fill="#c31c00"/>
<line x1="532.47" x2="543.77" y1="669.5" y2="669.5" stroke="#cf4000" stroke-width="1" opacity="0.8"/>
<rect x="549.11" y="569.17" width="11.3" height="93.34" fill="#7db56e"/>
<line x1="549.11" x2="560.41" y1="604.5" y2="604.5" stroke="#6b9e5f" stroke-width="1"/>
<line x1="549.11" x2="560.41" y1="629.5" y2="629.5" stroke="#6b9e5f" stroke-width="1"/>
<rect x="549.11" y="662.50" width="11.3" height="3.47" fill="#e6772a"/>
<rect x="549.11" y="665.97" width="11.3" height="6.07" fill="#c31c00"/>
<line x1="549.11" x2="560.41" y1="668.5" y2="668.5" stroke="#cf4000" stroke-width="1" opacity="0.8"/>
<rect x="565.75" y="566.28" width="11.3" height="97.67" fill="#7db56e"/>
<line x1="565.75" x2="577.05" y1="588.5" y2="588.5" stroke="#6b9e5f" stroke-width="1"/>
<line x1="565.75" x2="577.05" y1="589.5" y2="589.5" stroke="#6b9e5f" stroke-width="1"/>
<rect x="565.75" y="663.95" width="11.3" height="2.89" fill="#e6772a"/>
<rect x="565.75" y="666.84" width="11.3" height="5.20" fill="#c31c00"/>
<line x1="565.75" x2="577.05" y1="670.5" y2="670.5" stroke="#cf4000" stroke-width="1" opacity="0.8"/>
<rect x="582.38" y="604.71" width="11.3" height="56.35" fill="#7db56e"/>
<line x1="582.38" x2="593.68" y1="626.5" y2="626.5" stroke="#6b9e5f" stroke-width="1"/>
<line x1="582.38" x2="593.68" y1="645.5" y2="645.5" stroke="#6b9e5f" stroke-width="1"/>
<rect x="582.38" y="661.06" width="11.3" height="10.98" fill="#e6772a"/>
<rect x="599.02" y="579.28" width="11.3" height="76.87" fill="#7db56e"/>
<line x1="599.02" x2="610.32" y1="613.5" y2="613.5" stroke="#6b9e5f" stroke-width="1"/>
<line x1="599.02" x2="610.32" y1="643.5" y2="643.5" stroke="#6b9e5f" stroke-width="1"/>
<rect x="599.02" y="656.15" width="11.3" height="15.89" fill="#c31c00"/>
<line x1="599.02" x2="610.32" y1="669.5" y2="669.5" stroke="#cf4000" stroke-width="1" opacity="0.8"/>
<line x1="599.02" x2="610.32" y1="663.5" y2="663.5" stroke="#cf4000" stroke-width="1" opacity="0.8"/>
<line x1="599.02" x2="610.32" y1="659.5" y2="659.5" stroke="#cf4000" stroke-width="1" opacity="0.8"/>
<rect x="615.66" y="574.95" width="11.3" height="82.36" fill="#7db56e"/>
<line x1="615.66" x2="626.96" y1="631.5" y2="631.5" stroke="#6b9e5f" stroke-width="1"/>
<line x1="615.66" x2="626.96" y1="634.5" y2="634.5" stroke="#6b9e5f" stroke-width="1"/>
<rect x="615.66" y="657.30" width="11.3" height="14.74" fill="#c31c00"/>
<line x1="615.66" x2="626.96" y1="669.5" y2="669.5" stroke="#cf4000" stroke-width="1" opacity="0.8"/>
<line x1="615.66" x2="626.96" y1="663.5" y2="663.5" stroke="#cf4000" stroke-width="1" opacity="0.8"/>
<rect x="632.30" y="585.06" width="11.3" height="73.98" fill="#7db56e"/>
<line x1="632.30" x2="643.60" y1="631.5" y2="631.5" stroke="#6b9e5f" stroke-width="1"/>
<line x1="632.30" x2="643.60" y1="637.5" y2="637.5" stroke="#6b9e5f" stroke-width="1"/>
<rect x="632.30" y="659.04" width="11.3" height="3.47" fill="#e6772a"/>
<rect x="632.30" y="662.50" width="11.3" height="9.54" fill="#c31c00"/>
<line x1="632.30" x2="643.60" y1="668.5" y2="668.5" stroke="#cf4000" stroke-width="1" opacity="0.8"/>
<rect x="648.93" y="574.95" width="11.3" height="84.09" fill="#7db56e"/>
<line x1="648.93" x2="660.23" y1="593.5" y2="593.5" stroke="#6b9e5f" stroke-width="1"/>
<line x1="648.93" x2="660.23" y1="606.5" y2="606.5" stroke="#6b9e5f" stroke-width="1"/>
<rect x="648.93" y="659.04" width="11.3" height="4.91" fill="#e6772a"/>
<rect x="648.93" y="663.95" width="11.3" height="8.09" fill="#c31c00"/>
<line x1="648.93" x2="660.23" y1="669.5" y2="669.5" stroke="#cf4000" stroke-width="1" opacity="0.8"/>
<rect x="665.57" y="601.24" width="11.3" height="61.26" fill="#7db56e"/>
<line x1="665.57" x2="676.87" y1="630.5" y2="630.5" stroke="#6b9e5f" stroke-width="1"/>
<line x1="665.57" x2="676.87" y1="654.5" y2="654.5" stroke="#6b9e5f" stroke-width="1"/>
<rect x="665.57" y="662.50" width="11.3" height="2.89" fill="#e6772a"/>
<rect x="665.57" y="665.39" width="11.3" height="6.65" fill="#c31c00"/>
<line x1="665.57" x2="676.87" y1="669.5" y2="669.5" stroke="#cf4000" stroke-width="1" opacity="0.8"/>
<rect x="682.21" y="596.33" width="11.3" height="61.84" fill="#7db56e"/>
<line x1="682.21" x2="693.51" y1="614.5" y2="614.5" stroke="#6b9e5f" stroke-width="1"/>
<line x1="682.21" x2="693.51" y1="644.5" y2="644.5" stroke="#6b9e5f" stroke-width="1"/>
<rect x="682.21" y="658.17" width="11.3" height="7.80" fill="#e6772a"/>
<rect x="682.21" y="665.97" width="11.3" height="6.07" fill="#c31c00"/>
<line x1="682.21" x2="693.51" y1="669.5" y2="669.5" stroke="#cf4000" stroke-width="1" opacity="0.8"/>
<rect x="698.84" y="567.15" width="11.3" height="91.02" fill="#7db56e"/>
<line x1="698.84" x2="710.14" y1="586.5" y2="586.5" stroke="#6b9e5f" stroke-width="1"/>
<line x1="698.84" x2="710.14" y1="645.5" y2="645.5" stroke="#6b9e5f" stroke-width="1"/>
<rect x="698.84" y="658.17" width="11.3" height="4.33" fill="#e6772a"/>
<rect x="698.84" y="662.50" width="11.3" height="4.91" fill="#c31c00"/>
<rect x="698.84" y="667.42" width="11.3" height="4.62" fill="#e6772a"/>
<rect x="715.48" y="570.04" width="11.3" height="88.14" fill="#7db56e"/>
<line x1="715.48" x2="726.78" y1="635.5" y2="635.5" stroke="#6b9e5f" stroke-width="1"/>
<line x1="715.48" x2="726.78" y1="638.5" y2="638.5" stroke="#6b9e5f" stroke-width="1"/>
<rect x="715.48" y="658.17" width="11.3" height="13.87" fill="#c31c00"/>
<line x1="715.48" x2="726.78" y1="668.5" y2="668.5" stroke="#cf4000" stroke-width="1" opacity="0.8"/>
<line x1="715.48" x2="726.78" y1="663.5" y2="663.5" stroke="#cf4000" stroke-width="1" opacity="0.8"/>
<rect x="732.12" y="576.68" width="11.3" height="83.51" fill="#7db56e"/>
<line x1="732.12" x2="743.42" y1="620.5" y2="620.5" stroke="#6b9e5f" stroke-width="1"/>
<line x1="732.12" x2="743.42" y1="644.5" y2="644.5" stroke="#6b9e5f" stroke-width="1"/>
<rect x="732.12" y="660.19" width="11.3" height="11.85" fill="#c31c00"/>
<line x1="732.12" x2="743.42" y1="668.5" y2="668.5" stroke="#cf4000" stroke-width="1" opacity="0.8"/>
<line x1="732.12" x2="743.42" y1="664.5" y2="664.5" stroke="#cf4000" stroke-width="1" opacity="0.8"/>
<rect x="748.75" y="590.84" width="11.3" height="66.46" fill="#7db56e"/>
<line x1="748.75" x2="760.05" y1="612.5" y2="612.5" stroke="#6b9e5f" stroke-width="1"/>
<line x1="748.75" x2="760.05" y1="622.5" y2="622.5" stroke="#6b9e5f" stroke-width="1"/>
<rect x="748.75" y="657.30" width="11.3" height="14.74" fill="#c31c00"/>
<line x1="748.75" x2="760.05" y1="669.5" y2="669.5" stroke="#cf4000" stroke-width="1" opacity="0.8"/>
<line x1="748.75" x2="760.05" y1="665.5" y2="665.5" stroke="#cf4000" stroke-width="1" opacity="0.8"/>
<line x1="748.75" x2="760.05" y1="661.5" y2="661.5" stroke="#cf4000" stroke-width="1" opacity="0.8"/>
<rect x="765.39" y="537.38" width="11.3" height="117.90" fill="#7db56e"/>
<line x1="765.39" x2="776.69" y1="588.5" y2="588.5" stroke="#6b9e5f" stroke-width="1"/>
<line x1="765.39" x2="776.69" y1="607.5" y2="607.5" stroke="#6b9e5f" stroke-width="1"/>
<line x1="765.39" x2="776.69" y1="642.5" y2="642.5" stroke="#6b9e5f" stroke-width="1"/>
<rect x="765.39" y="655.28" width="11.3" height="16.76" fill="#c31c00"/>
<line x1="765.39" x2="776.69" y1="670.5" y2="670.5" stroke="#cf4000" stroke-width="1" opacity="0.8"/>
<line x1="765.39" x2="776.69" y1="666.5" y2="666.5" stroke="#cf4000" stroke-width="1" opacity="0.8"/>
<line x1="765.39" x2="776.69" y1="660.5" y2="660.5" stroke="#cf4000" stroke-width="1" opacity="0.8"/>
<rect x="782.03" y="609.33" width="11.3" height="46.81" fill="#7db56e"/>
<line x1="782.03" x2="793.33" y1="626.5" y2="626.5" stroke="#6b9e5f" stroke-width="1"/>
<line x1="782.03" x2="793.33" y1="632.5" y2="632.5" stroke="#6b9e5f" stroke-width="1"/>
<rect x="782.03" y="656.15" width="11.3" height="15.89" fill="#c31c00"/>
<line x1="782.03" x2="793.33" y1="668.5" y2="668.5" stroke="#cf4000" stroke-width="1" opacity="0.8"/>
<line x1="782.03" x2="793.33" y1="661.5" y2="661.5" stroke="#cf4000" stroke-width="1" opacity="0.8"/>
<rect x="798.66" y="557.90" width="11.3" height="105.18" fill="#7db56e"/>
<line x1="798.66" x2="809.96" y1="596.5" y2="596.5" stroke="#6b9e5f" stroke-width="1"/>
<line x1="798.66" x2="809.96" y1="610.5" y2="610.5" stroke="#6b9e5f" stroke-width="1"/>
<rect x="798.66" y="663.08" width="11.3" height="8.96" fill="#c31c00"/>
<line x1="798.66" x2="809.96" y1="668.5" y2="668.5" stroke="#cf4000" stroke-width="1" opacity="0.8"/>
<rect x="815.30" y="567.15" width="11.3" height="88.14" fill="#7db56e"/>
<line x1="815.30" x2="826.60" y1="631.5" y2="631.5" stroke="#6b9e5f" stroke-width="1"/>
<line x1="815.30" x2="826.60" y1="637.5" y2="637.5" stroke="#6b9e5f" stroke-width="1"/>
<rect x="815.30" y="655.28" width="11.3" height="16.76" fill="#c31c00"/>
<line x1="815.30" x2="826.60" y1="668.5" y2="668.5" stroke="#cf4000" stroke-width="1" opacity="0.8"/>
<line x1="815.30" x2="826.60" y1="664.5" y2="664.5" stroke="#cf4000" stroke-width="1" opacity="0.8"/>
<line x1="815.30" x2="826.60" y1="658.5" y2="658.5" stroke="#cf4000" stroke-width="1" opacity="0.8"/>
<rect x="831.94" y="580.44" width="11.3" height="78.60" fill="#7db56e"/>
<line x1="831.94" x2="843.24" y1="611.5" y2="611.5" stroke="#6b9e5f" stroke-width="1"/>
<line x1="831.94" x2="843.24" y1="612.5" y2="612.5" stroke="#6b9e5f" stroke-width="1"/>
<rect x="831.94" y="659.04" width="11.3" height="13.00" fill="#c31c00"/>
<line x1="831.94" x2="843.24" y1="669.5" y2="669.5" stroke="#cf4000" stroke-width="1" opacity="0.8"/>
<line x1="831.94" x2="843.24" y1="663.5" y2="663.5" stroke="#cf4000" stroke-width="1" opacity="0.8"/>
<rect x="848.58" y="530.16" width="11.3" height="127.15" fill="#7db56e"/>
<line x1="848.58" x2="859.88" y1="572.5" y2="572.5" stroke="#6b9e5f" stroke-width="1"/>
<line x1="848.58" x2="859.88" y1="577.5" y2="577.5" stroke="#6b9e5f" stroke-width="1"/>
<line x1="848.58" x2="859.88" y1="595.5" y2="595.5" stroke="#6b9e5f" stroke-width="1"/>
<rect x="848.58" y="657.30" width="11.3" height="14.74" fill="#c31c00"/>
<line x1="848.58" x2="859.88" y1="669.5" y2="669.5" stroke="#cf4000" stroke-width="1" opacity="0.8"/>
<line x1="848.58" x2="859.88" y1="664.5" y2="664.5" stroke="#cf4000" stroke-width="1" opacity="0.8"/>
<rect x="865.21" y="574.95" width="11.3" height="81.20" fill="#7db56e"/>
<line x1="865.21" x2="876.51" y1="595.5" y2="595.5" stroke="#6b9e5f" stroke-width="1"/>
<line x1="865.21" x2="876.51" y1="605.5" y2="605.5" stroke="#6b9e5f" stroke-width="1"/>
<rect x="865.21" y="656.15" width="11.3" height="7.80" fill="#e6772a"/>
<rect x="865.21" y="663.95" width="11.3" height="4.33" fill="#c31c00"/>
<line x1="865.21" x2="876.51" y1="666.5" y2="666.5" stroke="#cf4000" stroke-width="1" opacity="0.8"/>
<rect x="865.21" y="668.28" width="11.3" height="3.76" fill="#e6772a"/>
<rect x="881.85" y="564.54" width="11.3" height="92.76" fill="#7db56e"/>
<line x1="881.85" x2="893.15" y1="590.5" y2="590.5" stroke="#6b9e5f" stroke-width="1"/>
<line x1="881.85" x2="893.15" y1="625.5" y2="625.5" stroke="#6b9e5f" stroke-width="1"/>
<rect x="881.85" y="657.30" width="11.3" height="14.74" fill="#c31c00"/>
<line x1="881.85" x2="893.15" y1="669.5" y2="669.5" stroke="#cf4000" stroke-width="1" opacity="0.8"/>
<line x1="881.85" x2="893.15" y1="665.5" y2="665.5" stroke="#cf4000" stroke-width="1" opacity="0.8"/>
<line x1="881.85" x2="893.15" y1="661.5" y2="661.5" stroke="#cf4000" stroke-width="1" opacity="0.8"/>
<rect x="898.49" y="514.26" width="11.3" height="141.88" fill="#7db56e"/>
<line x1="898.49" x2="909.79" y1="590.5" y2="590.5" stroke="#6b9e5f" stroke-width="1"/>
<line x1="898.49" x2="909.79" y1="624.5" y2="624.5" stroke="#6b9e5f" stroke-width="1"/>
<line x1="898.49" x2="909.79" y1="626.5" y2="626.5" stroke="#6b9e5f" stroke-width="1"/>
<rect x="898.49" y="656.15" width="11.3" height="4.91" fill="#e6772a"/>
<rect x="898.49" y="661.06" width="11.3" height="10.98" fill="#c31c00"/>
<line x1="898.49" x2="909.79" y1="669.5" y2="669.5" stroke="#cf4000" stroke-width="1" opacity="0.8"/>
<line x1="898.49" x2="909.79" y1="665.5" y2="665.5" stroke="#cf4000" stroke-width="1" opacity="0.8"/>
<rect x="915.12" y="593.44" width="11.3" height="65.60" fill="#7db56e"/>
<line x1="915.12" x2="926.42" y1="609.5" y2="609.5" stroke="#6b9e5f" stroke-width="1"/>
<line x1="915.12" x2="926.42" y1="617.5" y2="617.5" stroke="#6b9e5f" stroke-width="1"/>
<rect x="915.12" y="659.04" width="11.3" height="3.47" fill="#e6772a"/>
<rect x="915.12" y="662.50" width="11.3" height="9.54" fill="#c31c00"/>
<line x1="915.12" x2="926.42" y1="668.5" y2="668.5" stroke="#cf4000" stroke-width="1" opacity="0.8"/>
<rect x="931.76" y="536.52" width="11.3" height="124.54" fill="#7db56e"/>
<line x1="931.76" x2="943.06" y1="594.5" y2="594.5" stroke="#6b9e5f" stroke-width="1"/>
<line x1="931.76" x2="943.06" y1="637.5" y2="637.5" stroke="#6b9e5f" stroke-width="1"/>
<line x1="931.76" x2="943.06" y1="643.5" y2="643.5" stroke="#6b9e5f" stroke-width="1"/>
<rect x="931.76" y="661.06" width="11.3" height="2.31" fill="#e6772a"/>
<rect x="931.76" y="663.37" width="11.3" height="8.67" fill="#c31c00"/>
<line x1="931.76" x2="943.06" y1="669.5" y2="669.5" stroke="#cf4000" stroke-width="1" opacity="0.8"/>
<rect x="948.40" y="571.19" width="11.3" height="80.33" fill="#7db56e"/>
<line x1="948.40" x2="959.70" y1="625.5" y2="625.5" stroke="#6b9e5f" stroke-width="1"/>
<line x1="948.40" x2="959.70" y1="631.5" y2="631.5" stroke="#6b9e5f" stroke-width="1"/>
<rect x="948.40" y="651.52" width="11.3" height="20.52" fill="#c31c00"/>
<line x1="948.40" x2="959.70" y1="670.5" y2="670.5" stroke="#cf4000" stroke-width="1" opacity="0.8"/>
<line x1="948.40" x2="959.70" y1="666.5" y2="666.5" stroke="#cf4000" stroke-width="1" opacity="0.8"/>
<line x1="948.40" x2="959.70" y1="660.5" y2="660.5" stroke="#cf4000" stroke-width="1" opacity="0.8"/>
<rect x="965.04" y="546.92" width="11.3" height="100.56" fill="#7db56e"/>
<line x1="965.04" x2="976.34" y1="570.5" y2="570.5" stroke="#6b9e5f" stroke-width="1"/>
<line x1="965.04" x2="976.34" y1="591.5" y2="591.5" stroke="#6b9e5f" stroke-width="1"/>
<rect x="965.04" y="647.48" width="11.3" height="24.56" fill="#c31c00"/>
<line x1="965.04" x2="976.34" y1="670.5" y2="670.5" stroke="#cf4000" stroke-width="1" opacity="0.8"/>
<line x1="965.04" x2="976.34" y1="665.5" y2="665.5" stroke="#cf4000" stroke-width="1" opacity="0.8"/>
<line x1="965.04" x2="976.34" y1="659.5" y2="659.5" stroke="#cf4000" stroke-width="1" opacity="0.8"/>
<rect x="981.67" y="538.25" width="11.3" height="105.76" fill="#7db56e"/>
<line x1="981.67" x2="992.97" y1="604.5" y2="604.5" stroke="#6b9e5f" stroke-width="1"/>
<line x1="981.67" x2="992.97" y1="608.5" y2="608.5" stroke="#6b9e5f" stroke-width="1"/>
<rect x="981.67" y="644.01" width="11.3" height="28.03" fill="#c31c00"/>
<line x1="981.67" x2="992.97" y1="670.5" y2="670.5" stroke="#cf4000" stroke-width="1" opacity="0.8"/>
<line x1="981.67" x2="992.97" y1="666.5" y2="666.5" stroke="#cf4000" stroke-width="1" opacity="0.8"/>
<line x1="981.67" x2="992.97" y1="660.5" y2="660.5" stroke="#cf4000" stroke-width="1" opacity="0.8"/>
<rect x="998.31" y="578.42" width="11.3" height="74.84" fill="#7db56e"/>
<line x1="998.31" x2="1009.61" y1="603.5" y2="603.5" stroke="#6b9e5f" stroke-width="1"/>
<line x1="998.31" x2="1009.61" y1="629.5" y2="629.5" stroke="#6b9e5f" stroke-width="1"/>
<rect x="998.31" y="653.26" width="11.3" height="18.78" fill="#c31c00"/>
<line x1="998.31" x2="1009.61" y1="669.5" y2="669.5" stroke="#cf4000" stroke-width="1" opacity="0.8"/>
<line x1="998.31" x2="1009.61" y1="665.5" y2="665.5" stroke="#cf4000" stroke-width="1" opacity="0.8"/>
<line x1="998.31" x2="1009.61" y1="660.5" y2="660.5" stroke="#cf4000" stroke-width="1" opacity="0.8"/>
<rect x="1014.95" y="535.36" width="11.3" height="116.16" fill="#7db56e"/>
<line x1="1014.95" x2="1026.25" y1="564.5" y2="564.5" stroke="#6b9e5f" stroke-width="1"/>
<line x1="1014.95" x2="1026.25" y1="603.5" y2="603.5" stroke="#6b9e5f" stroke-width="1"/>
<line x1="1014.95" x2="1026.25" y1="623.5" y2="623.5" stroke="#6b9e5f" stroke-width="1"/>
<rect x="1014.95" y="651.52" width="11.3" height="9.54" fill="#e6772a"/>
<rect x="1014.95" y="661.06" width="11.3" height="10.98" fill="#c31c00"/>
<line x1="1014.95" x2="1026.25" y1="670.5" y2="670.5" stroke="#cf4000" stroke-width="1" opacity="0.8"/>
<rect x="1031.58" y="561.66" width="11.3" height="100.27" fill="#7db56e"/>
<line x1="1031.58" x2="1042.88" y1="593.5" y2="593.5" stroke="#6b9e5f" stroke-width="1"/>
<line x1="1031.58" x2="1042.88" y1="628.5" y2="628.5" stroke="#6b9e5f" stroke-width="1"/>
<rect x="1031.58" y="661.93" width="11.3" height="2.02" fill="#e6772a"/>
<rect x="1031.58" y="663.95" width="11.3" height="8.09" fill="#c31c00"/>
<line x1="1031.58" x2="1042.88" y1="668.5" y2="668.5" stroke="#cf4000" stroke-width="1" opacity="0.8"/>
<rect x="1048.22" y="540.27" width="11.3" height="120.79" fill="#7db56e"/>
<line x1="1048.22" x2="1059.52" y1="587.5" y2="587.5" stroke="#6b9e5f" stroke-width="1"/>
<line x1="1048.22" x2="1059.52" y1="598.5" y2="598.5" stroke="#6b9e5f" stroke-width="1"/>
<line x1="1048.22" x2="1059.52" y1="620.5" y2="620.5" stroke="#6b9e5f" stroke-width="1"/>
<rect x="1048.22" y="661.06" width="11.3" height="10.98" fill="#c31c00"/>
<line x1="1048.22" x2="1059.52" y1="669.5" y2="669.5" stroke="#cf4000" stroke-width="1" opacity="0.8"/>
<rect x="1064.86" y="555.01" width="11.3" height="101.14" fill="#7db56e"/>
<line x1="1064.86" x2="1076.16" y1="579.5" y2="579.5" stroke="#6b9e5f" stroke-width="1"/>
<line x1="1064.86" x2="1076.16" y1="605.5" y2="605.5" stroke="#6b9e5f" stroke-width="1"/>
<rect x="1064.86" y="656.15" width="11.3" height="5.78" fill="#e6772a"/>
<rect x="1064.86" y="661.93" width="11.3" height="10.11" fill="#c31c00"/>
<line x1="1064.86" x2="1076.16" y1="668.5" y2="668.5" stroke="#cf4000" stroke-width="1" opacity="0.8"/>
<rect x="1081.49" y="567.15" width="11.3" height="91.02" fill="#7db56e"/>
<line x1="1081.49" x2="1092.79" y1="587.5" y2="587.5" stroke="#6b9e5f" stroke-width="1"/>
<line x1="1081.49" x2="1092.79" y1="612.5" y2="612.5" stroke="#6b9e5f" stroke-width="1"/>
<rect x="1081.49" y="658.17" width="11.3" height="13.87" fill="#c31c00"/>
<line x1="1081.49" x2="1092.79" y1="669.5" y2="669.5" stroke="#cf4000" stroke-width="1" opacity="0.8"/>
<line x1="1081.49" x2="1092.79" y1="664.5" y2="664.5" stroke="#cf4000" stroke-width="1" opacity="0.8"/>
<rect x="1098.13" y="562.52" width="11.3" height="99.98" fill="#7db56e"/>
<line x1="1098.13" x2="1109.43" y1="597.5" y2="597.5" stroke="#6b9e5f" stroke-width="1"/>
<line x1="1098.13" x2="1109.43" y1="633.5" y2="633.5" stroke="#6b9e5f" stroke-width="1"/>
<rect x="1098.13" y="662.50" width="11.3" height="2.31" fill="#e6772a"/>
<rect x="1098.13" y="664.82" width="11.3" height="7.22" fill="#c31c00"/>
<line x1="1098.13" x2="1109.43" y1="670.5" y2="670.5" stroke="#cf4000" stroke-width="1" opacity="0.8"/>
<rect x="1114.77" y="542.01" width="11.3" height="119.05" fill="#7db56e"/>
<line x1="1114.77" x2="1126.07" y1="601.5" y2="601.5" stroke="#6b9e5f" stroke-width="1"/>
<line x1="1114.77" x2="1126.07" y1="634.5" y2="634.5" stroke="#6b9e5f" stroke-width="1"/>
<line x1="1114.77" x2="1126.07" y1="641.5" y2="641.5" stroke="#6b9e5f" stroke-width="1"/>
<rect x="1114.77" y="661.06" width="11.3" height="10.98" fill="#c31c00"/>
<line x1="1114.77" x2="1126.07" y1="669.5" y2="669.5" stroke="#cf4000" stroke-width="1" opacity="0.8"/>
<rect x="1131.40" y="564.54" width="11.3" height="87.85" fill="#7db56e"/>
<line x1="1131.40" x2="1142.70" y1="592.5" y2="592.5" stroke="#6b9e5f" stroke-width="1"/>
<line x1="1131.40" x2="1142.70" y1="610.5" y2="610.5" stroke="#6b9e5f" stroke-width="1"/>
<rect x="1131.40" y="652.39" width="11.3" height="19.65" fill="#c31c00"/>
<line x1="1131.40" x2="1142.70" y1="670.5" y2="670.5" stroke="#cf4000" stroke-width="1" opacity="0.8"/>
<line x1="1131.40" x2="1142.70" y1="666.5" y2="666.5" stroke="#cf4000" stroke-width="1" opacity="0.8"/>
<line x1="1131.40" x2="1142.70" y1="661.5" y2="661.5" stroke="#cf4000" stroke-width="1" opacity="0.8"/>
<rect x="1148.04" y="537.38" width="11.3" height="111.25" fill="#7db56e"/>
<line x1="1148.04" x2="1159.34" y1="567.5" y2="567.5" stroke="#6b9e5f" stroke-width="1"/>
<line x1="1148.04" x2="1159.34" y1="589.5" y2="589.5" stroke="#6b9e5f" stroke-width="1"/>
<line x1="1148.04" x2="1159.34" y1="608.5" y2="608.5" stroke="#6b9e5f" stroke-width="1"/>
<rect x="1148.04" y="648.63" width="11.3" height="7.51" fill="#e6772a"/>
<rect x="1148.04" y="656.15" width="11.3" height="15.89" fill="#c31c00"/>
<line x1="1148.04" x2="1159.34" y1="668.5" y2="668.5" stroke="#cf4000" stroke-width="1" opacity="0.8"/>
<line x1="1148.04" x2="1159.34" y1="663.5" y2="663.5" stroke="#cf4000" stroke-width="1" opacity="0.8"/>
<rect x="1164.68" y="573.79" width="11.3" height="85.25" fill="#7db56e"/>
<line x1="1164.68" x2="1175.98" y1="600.5" y2="600.5" stroke="#6b9e5f" stroke-width="1"/>
<line x1="1164.68" x2="1175.98" y1="612.5" y2="612.5" stroke="#6b9e5f" stroke-width="1"/>
<rect x="1164.68" y="659.04" width="11.3" height="13.00" fill="#c31c00"/>
<line x1="1164.68" x2="1175.98" y1="670.5" y2="670.5" stroke="#cf4000" stroke-width="1" opacity="0.8"/>
<line x1="1164.68" x2="1175.98" y1="666.5" y2="666.5" stroke="#cf4000" stroke-width="1" opacity="0.8"/>
<line x1="1164.68" x2="1175.98" y1="662.5" y2="662.5" stroke="#cf4000" stroke-width="1" opacity="0.8"/>
<rect x="1181.32" y="553.28" width="11.3" height="97.09" fill="#7db56e"/>
<line x1="1181.32" x2="1192.62" y1="606.5" y2="606.5" stroke="#6b9e5f" stroke-width="1"/>
<line x1="1181.32" x2="1192.62" y1="627.5" y2="627.5" stroke="#6b9e5f" stroke-width="1"/>
<rect x="1181.32" y="650.37" width="11.3" height="21.67" fill="#c31c00"/>
<line x1="1181.32" x2="1192.62" y1="670.5" y2="670.5" stroke="#cf4000" stroke-width="1" opacity="0.8"/>
<line x1="1181.32" x2="1192.62" y1="664.5" y2="664.5" stroke="#cf4000" stroke-width="1" opacity="0.8"/>
<line x1="1181.32" x2="1192.62" y1="659.5" y2="659.5" stroke="#cf4000" stroke-width="1" opacity="0.8"/>
<rect x="1197.95" y="540.27" width="11.3" height="123.10" fill="#7db56e"/>
<line x1="1197.95" x2="1209.25" y1="569.5" y2="569.5" stroke="#6b9e5f" stroke-width="1"/>
<line x1="1197.95" x2="1209.25" y1="606.5" y2="606.5" stroke="#6b9e5f" stroke-width="1"/>
<line x1="1197.95" x2="1209.25" y1="649.5" y2="649.5" stroke="#6b9e5f" stroke-width="1"/>
<rect x="1197.95" y="663.37" width="11.3" height="8.67" fill="#c31c00"/>
<line x1="1197.95" x2="1209.25" y1="668.5" y2="668.5" stroke="#cf4000" stroke-width="1" opacity="0.8"/>
<rect x="1214.59" y="561.66" width="11.3" height="91.60" fill="#7db56e"/>
<line x1="1214.59" x2="1225.89" y1="586.5" y2="586.5" stroke="#6b9e5f" stroke-width="1"/>
<line x1="1214.59" x2="1225.89" y1="626.5" y2="626.5" stroke="#6b9e5f" stroke-width="1"/>
<rect x="1214.59" y="653.26" width="11.3" height="18.78" fill="#c31c00"/>
<line x1="1214.59" x2="1225.89" y1="668.5" y2="668.5" stroke="#cf4000" stroke-width="1" opacity="0.8"/>
<line x1="1214.59" x2="1225.89" y1="663.5" y2="663.5" stroke="#cf4000" stroke-width="1" opacity="0.8"/>
<line x1="1214.59" x2="1225.89" y1="658.5" y2="658.5" stroke="#cf4000" stroke-width="1" opacity="0.8"/>
<rect x="1231.23" y="522.36" width="11.3" height="137.84" fill="#7db56e"/>
<line x1="1231.23" x2="1242.53" y1="569.5" y2="569.5" stroke="#6b9e5f" stroke-width="1"/>
<line x1="1231.23" x2="1242.53" y1="596.5" y2="596.5" stroke="#6b9e5f" stroke-width="1"/>
<line x1="1231.23" x2="1242.53" y1="609.5" y2="609.5" stroke="#6b9e5f" stroke-width="1"/>
<rect x="1231.23" y="660.19" width="11.3" height="2.31" fill="#e6772a"/>
<rect x="1231.23" y="662.50" width="11.3" height="9.54" fill="#c31c00"/>
<line x1="1231.23" x2="1242.53" y1="668.5" y2="668.5" stroke="#cf4000" stroke-width="1" opacity="0.8"/>
<rect x="50" y="672" width="1199" height="1" class="g"/>
</svg>
<div class="ttl" style="left:229px;top:27.8px;width:190.0px;height:17.4px"><span style="margin-top:-1.2px;filter:blur(2.9px)">[HA] Total tag viewed today</span></div>
<div class="ttl" style="left:883px;top:28px;width:156.0px;height:15.2px"><span style="margin-top:-2.3px;filter:blur(3.1px)">[HA] Tag views per sec</span></div>
<div class="ttl" style="left:573.5px;top:195.5px;width:138.1px;height:20.2px"><span style="margin-top:0.5px;filter:blur(2.9px)">[HA] Tag views / sec</span></div>
<div class="ttl" style="left:604.3px;top:456.4px;width:77.4px;height:19.3px"><span style="margin-top:0.2px;filter:blur(3.3px)">[HA] Mood</span></div>
<div class="ttl" style="left:208.8px;top:718.8px;width:230.1px;height:16.4px"><span style="margin-top:-1.8px;filter:blur(3.1px)">[HA] Top tag views / sec / website</span></div>
<div class="ttl" style="left:863.8px;top:719.8px;width:196.6px;height:15.4px"><span style="margin-top:-2.8px;filter:blur(3.1px)">[HA] Top tag views / website</span></div>
<div style="position:absolute;left:938px;top:43.2px;width:3.5px;height:1px;background:#8a8e94;border-radius:1px"></div>
<div style="position:absolute;left:989px;top:43.2px;width:3.5px;height:1px;background:#8a8e94;border-radius:1px"></div>
<div style="position:absolute;left:262px;top:735.2px;width:3.5px;height:1px;background:#8a8e94;border-radius:1px"></div>
<div style="position:absolute;left:290px;top:735.2px;width:3.5px;height:1px;background:#8a8e94;border-radius:1px"></div>
<div style="position:absolute;left:917px;top:735.2px;width:3.5px;height:1px;background:#8a8e94;border-radius:1px"></div>
<div style="position:absolute;left:944.5px;top:735.2px;width:3.5px;height:1px;background:#8a8e94;border-radius:1px"></div>
<div class="big" id="big1a" style="left:164px;top:60.3px;font-size:88.5px;line-height:100px;letter-spacing:-1px">34</div>
<div class="big" id="big1c" style="left:284px;top:60.3px;font-size:88.5px;line-height:100px;letter-spacing:-1px">8</div>
<div class="big" id="big1b" style="left:353.2px;top:60.3px;font-size:88.5px;line-height:100px;letter-spacing:2.2px;transform:scaleX(1.053);transform-origin:0 0">Mil</div>
<div class="big" id="b2a" style="left:850.5px;top:55.6px;font-size:73.5px;line-height:100px;letter-spacing:-0.8px">039 K</div>
<div class="big" id="b2b" style="left:1044.5px;top:74.3px;font-size:22.3px;line-height:100px;-webkit-text-stroke:0.5px #d8d9da">tag / sec</div>
<div class="yl" style="left:0px;width:51px;top:217.1px">1.3 K</div>
<div class="yl" style="left:0px;width:51px;top:254.1px">1.0 K</div>
<div class="yl" style="left:0px;width:51px;top:291.1px">750</div>
<div class="yl" style="left:0px;width:51px;top:329.1px">500</div>
<div class="yl" style="left:0px;width:51px;top:366.1px">250</div>
<div class="yl" style="left:0px;width:51px;top:404.1px">0</div>
<div class="xl" style="left:33.5px;top:416.8px">10:00</div>
<div class="xl" style="left:125.5px;top:416.8px">10:30</div>
<div class="xl" style="left:217.5px;top:416.8px">11:00</div>
<div class="xl" style="left:307.5px;top:416.8px">11:30</div>
<div class="xl" style="left:399.5px;top:416.8px">12:00</div>
<div class="xl" style="left:490.5px;top:416.8px">12:30</div>
<div class="xl" style="left:581.5px;top:416.8px">13:00</div>
<div class="xl" style="left:673.5px;top:416.8px">13:30</div>
<div class="xl" style="left:764.5px;top:416.8px">14:00</div>
<div class="xl" style="left:855.5px;top:416.8px">14:30</div>
<div class="xl" style="left:947.5px;top:416.8px">15:00</div>
<div class="xl" style="left:1038.5px;top:416.8px">15:30</div>
<div class="lg" style="left:1188.5px;top:222px">tag view</div>
<div class="lg" style="left:1178px;top:239px">Max: 1.163 K</div>
<div class="lg" style="left:1178px;top:256px" id="lgc">Current: 1.039 K</div>
<div class="yl" style="left:0px;width:44.3px;top:478.3px">200</div>
<div class="yl" style="left:0px;width:44.3px;top:524.3px">150</div>
<div class="yl" style="left:0px;width:44.3px;top:571.3px">100</div>
<div class="yl" style="left:0px;width:44.3px;top:618.3px">50</div>
<div class="yl" style="left:0px;width:44.3px;top:665.3px">0</div>
<div class="xl" style="left:28.5px;top:677.7px">10:00</div>
<div class="xl" style="left:128.5px;top:677.7px">10:30</div>
<div class="xl" style="left:228.5px;top:677.7px">11:00</div>
<div class="xl" style="left:327.5px;top:677.7px">11:30</div>
<div class="xl" style="left:427.5px;top:677.7px">12:00</div>
<div class="xl" style="left:527.5px;top:677.7px">12:30</div>
<div class="xl" style="left:627.5px;top:677.7px">13:00</div>
<div class="xl" style="left:727.5px;top:677.7px">13:30</div>
<div class="xl" style="left:827.5px;top:677.7px">14:00</div>
<div class="xl" style="left:927.5px;top:677.7px">14:30</div>
<div class="xl" style="left:1026.5px;top:677.7px">15:00</div>
<div class="xl" style="left:1126.5px;top:677.7px">15:30</div>
<div style="position:absolute;left:13px;top:741px;width:624px;height:2px;background:#141414"></div>
<div style="position:absolute;left:13px;top:743px;width:624px;height:24px;background:#252423"></div>
<div style="position:absolute;left:13px;top:767px;width:624px;height:2px;background:#141414"></div>
<div class="th" style="left:27px;top:748.9px">Metric</div>
<div class="th" style="left:312.5px;top:748.9px">Current<span class="caret"></span></div>
<div style="position:absolute;left:13px;top:805px;width:616px;height:2px;background:#141414"></div>
<div style="position:absolute;left:13px;top:840px;width:616px;height:2px;background:#141414"></div>
<div style="position:absolute;left:13px;top:875px;width:616px;height:2px;background:#141414"></div>
<div style="position:absolute;left:13px;top:910px;width:616px;height:2px;background:#141414"></div>
<div style="position:absolute;left:13px;top:945px;width:616px;height:2px;background:#141414"></div>
<div style="position:absolute;left:298px;top:772px;width:2px;height:187px;background:#141414"></div>
<div class="td" style="left:26.5px;top:779.5px">427</div>
<div class="td" style="left:312.5px;top:779.5px">88</div>
<div class="td" style="left:26.5px;top:814.5px">11</div>
<div class="td" style="left:312.5px;top:814.5px">83</div>
<div class="td" style="left:26.5px;top:849.5px">349</div>
<div class="td" style="left:312.5px;top:849.5px">76</div>
<div class="td" style="left:26.5px;top:884.5px">325</div>
<div class="td" style="left:312.5px;top:884.5px">52</div>
<div class="td" style="left:26.5px;top:919.5px">2077</div>
<div class="td" style="left:312.5px;top:919.5px">45</div>
<div style="position:absolute;left:629px;top:772px;width:6px;height:142px;background:#3b3b3b;border:1px solid #0c0c0c;border-radius:1px"></div>
<div style="position:absolute;left:13px;top:947px;width:624px;height:12px;overflow:hidden"><div class="td" style="left:15px;top:9px">1147</div><div class="td" style="left:300.5px;top:9px">36</div></div>
<div style="position:absolute;left:650px;top:741px;width:624px;height:2px;background:#141414"></div>
<div style="position:absolute;left:650px;top:743px;width:624px;height:24px;background:#252423"></div>
<div style="position:absolute;left:650px;top:767px;width:624px;height:2px;background:#141414"></div>
<div class="th" style="left:665px;top:748.9px">Metric</div>
<div class="th" style="left:954.3px;top:748.9px">Current<span class="caret"></span></div>
<div style="position:absolute;left:650px;top:805px;width:624px;height:2px;background:#141414"></div>
<div style="position:absolute;left:650px;top:840px;width:624px;height:2px;background:#141414"></div>
<div style="position:absolute;left:650px;top:875px;width:624px;height:2px;background:#141414"></div>
<div style="position:absolute;left:650px;top:910px;width:624px;height:2px;background:#141414"></div>
<div style="position:absolute;left:650px;top:945px;width:624px;height:2px;background:#141414"></div>
<div style="position:absolute;left:938px;top:772px;width:2px;height:174px;background:#141414"></div>
<div class="td" style="left:664.5px;top:779.5px">349</div>
<div class="td" style="left:954.3px;top:779.5px">4 Mil</div>
<div class="td" style="left:664.5px;top:814.5px">427</div>
<div class="td" style="left:954.3px;top:814.5px">3 Mil</div>
<div class="td" style="left:664.5px;top:849.5px">11</div>
<div class="td" style="left:954.3px;top:849.5px">2 Mil</div>
<div class="td" style="left:664.5px;top:884.5px">2077</div>
<div class="td" style="left:954.3px;top:884.5px">2 Mil</div>
<div class="td" style="left:664.5px;top:919.5px">1147</div>
<div class="td" style="left:954.3px;top:919.5px">2 Mil</div>
</body></html>
